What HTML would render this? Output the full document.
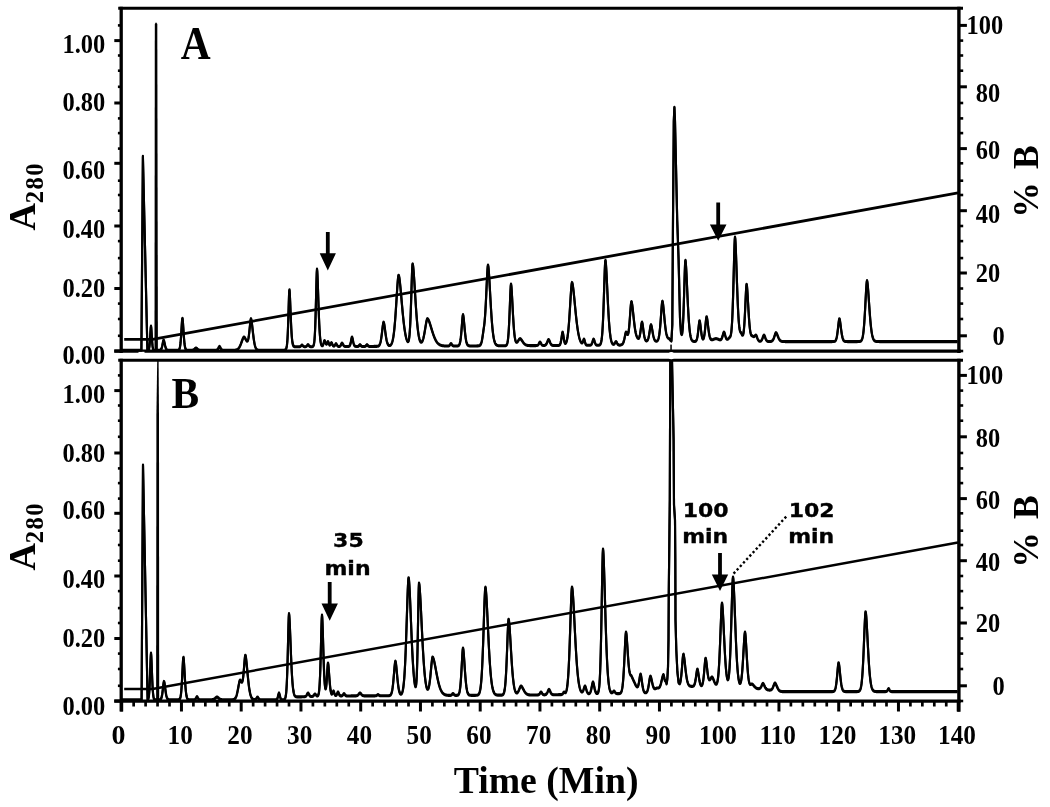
<!DOCTYPE html>
<html lang="en"><head><meta charset="utf-8"><title>Chromatograms A and B</title>
<style>html,body{margin:0;padding:0;background:#fff}svg{display:block}.s{font-family:"Liberation Serif","DejaVu Serif",serif;font-weight:bold;fill:#000}.d{font-family:"DejaVu Sans","Liberation Sans",sans-serif;font-weight:bold;fill:#000;stroke:#000;stroke-width:.35px}</style></head><body>
<svg width="1050" height="807" viewBox="0 0 1050 807">
<rect width="1050" height="807" fill="#fff"/>
<defs><clipPath id="cb"><rect x="118" y="360.3" width="845" height="345"/></clipPath><clipPath id="ca"><rect x="118" y="8" width="845" height="345"/></clipPath></defs>
<line x1="118.2" y1="8.2" x2="963" y2="8.2" stroke="#000" stroke-width="3.1"/>
<line x1="114.3" y1="351.2" x2="960.7" y2="351.2" stroke="#000" stroke-width="3.3"/>
<line x1="121.2" y1="6.7" x2="121.2" y2="352.9" stroke="#000" stroke-width="3.3"/>
<line x1="958.9" y1="6.7" x2="958.9" y2="352.9" stroke="#000" stroke-width="3.4"/>
<line x1="117.9" y1="25.4" x2="121.2" y2="25.4" stroke="#000" stroke-width="2.6"/>
<line x1="958.9" y1="25.4" x2="966.9" y2="25.4" stroke="#000" stroke-width="3"/>
<line x1="114.3" y1="40.6" x2="121.2" y2="40.6" stroke="#000" stroke-width="3"/>
<line x1="958.9" y1="40.6" x2="963.2" y2="40.6" stroke="#000" stroke-width="2.6"/>
<line x1="117.9" y1="55.5" x2="121.2" y2="55.5" stroke="#000" stroke-width="2.6"/>
<line x1="958.9" y1="55.5" x2="963.2" y2="55.5" stroke="#000" stroke-width="2.6"/>
<line x1="117.9" y1="70.7" x2="121.2" y2="70.7" stroke="#000" stroke-width="2.6"/>
<line x1="958.9" y1="70.7" x2="963.2" y2="70.7" stroke="#000" stroke-width="2.6"/>
<line x1="117.9" y1="86.8" x2="121.2" y2="86.8" stroke="#000" stroke-width="2.6"/>
<line x1="958.9" y1="86.8" x2="966.9" y2="86.8" stroke="#000" stroke-width="3"/>
<line x1="114.3" y1="103" x2="121.2" y2="103" stroke="#000" stroke-width="3"/>
<line x1="958.9" y1="103" x2="963.2" y2="103" stroke="#000" stroke-width="2.6"/>
<line x1="117.9" y1="118.4" x2="121.2" y2="118.4" stroke="#000" stroke-width="2.6"/>
<line x1="958.9" y1="118.4" x2="963.2" y2="118.4" stroke="#000" stroke-width="2.6"/>
<line x1="117.9" y1="133.1" x2="121.2" y2="133.1" stroke="#000" stroke-width="2.6"/>
<line x1="958.9" y1="133.1" x2="963.2" y2="133.1" stroke="#000" stroke-width="2.6"/>
<line x1="117.9" y1="148.6" x2="121.2" y2="148.6" stroke="#000" stroke-width="2.6"/>
<line x1="958.9" y1="148.6" x2="966.9" y2="148.6" stroke="#000" stroke-width="3"/>
<line x1="114.3" y1="163.3" x2="121.2" y2="163.3" stroke="#000" stroke-width="3"/>
<line x1="958.9" y1="163.3" x2="963.2" y2="163.3" stroke="#000" stroke-width="2.6"/>
<line x1="117.9" y1="180.7" x2="121.2" y2="180.7" stroke="#000" stroke-width="2.6"/>
<line x1="958.9" y1="180.7" x2="963.2" y2="180.7" stroke="#000" stroke-width="2.6"/>
<line x1="117.9" y1="195" x2="121.2" y2="195" stroke="#000" stroke-width="2.6"/>
<line x1="958.9" y1="195" x2="963.2" y2="195" stroke="#000" stroke-width="2.6"/>
<line x1="117.9" y1="210.7" x2="121.2" y2="210.7" stroke="#000" stroke-width="2.6"/>
<line x1="958.9" y1="210.7" x2="966.9" y2="210.7" stroke="#000" stroke-width="3"/>
<line x1="114.3" y1="226" x2="121.2" y2="226" stroke="#000" stroke-width="3"/>
<line x1="958.9" y1="226" x2="963.2" y2="226" stroke="#000" stroke-width="2.6"/>
<line x1="117.9" y1="241.1" x2="121.2" y2="241.1" stroke="#000" stroke-width="2.6"/>
<line x1="958.9" y1="241.1" x2="963.2" y2="241.1" stroke="#000" stroke-width="2.6"/>
<line x1="117.9" y1="258.1" x2="121.2" y2="258.1" stroke="#000" stroke-width="2.6"/>
<line x1="958.9" y1="258.1" x2="963.2" y2="258.1" stroke="#000" stroke-width="2.6"/>
<line x1="117.9" y1="273" x2="121.2" y2="273" stroke="#000" stroke-width="2.6"/>
<line x1="958.9" y1="273" x2="966.9" y2="273" stroke="#000" stroke-width="3"/>
<line x1="114.3" y1="288.5" x2="121.2" y2="288.5" stroke="#000" stroke-width="3"/>
<line x1="958.9" y1="288.5" x2="963.2" y2="288.5" stroke="#000" stroke-width="2.6"/>
<line x1="117.9" y1="303.6" x2="121.2" y2="303.6" stroke="#000" stroke-width="2.6"/>
<line x1="958.9" y1="303.6" x2="963.2" y2="303.6" stroke="#000" stroke-width="2.6"/>
<line x1="117.9" y1="319" x2="121.2" y2="319" stroke="#000" stroke-width="2.6"/>
<line x1="958.9" y1="319" x2="963.2" y2="319" stroke="#000" stroke-width="2.6"/>
<line x1="117.9" y1="335.8" x2="121.2" y2="335.8" stroke="#000" stroke-width="2.6"/>
<line x1="958.9" y1="335.8" x2="966.9" y2="335.8" stroke="#000" stroke-width="3"/>
<line x1="114.3" y1="351" x2="121.2" y2="351" stroke="#000" stroke-width="3"/>
<line x1="958.9" y1="351" x2="963.2" y2="351" stroke="#000" stroke-width="2.6"/>
<line x1="118.2" y1="360.3" x2="963" y2="360.3" stroke="#000" stroke-width="3.1"/>
<line x1="114.3" y1="701.1" x2="960.7" y2="701.1" stroke="#000" stroke-width="3.3"/>
<line x1="121.2" y1="358.8" x2="121.2" y2="711.4" stroke="#000" stroke-width="3.3"/>
<line x1="958.9" y1="358.8" x2="958.9" y2="711.7" stroke="#000" stroke-width="3.4"/>
<line x1="117.9" y1="375.4" x2="121.2" y2="375.4" stroke="#000" stroke-width="2.6"/>
<line x1="958.9" y1="375.4" x2="966.9" y2="375.4" stroke="#000" stroke-width="3"/>
<line x1="114.3" y1="390.6" x2="121.2" y2="390.6" stroke="#000" stroke-width="3"/>
<line x1="958.9" y1="390.6" x2="963.2" y2="390.6" stroke="#000" stroke-width="2.6"/>
<line x1="117.9" y1="405.5" x2="121.2" y2="405.5" stroke="#000" stroke-width="2.6"/>
<line x1="958.9" y1="405.5" x2="963.2" y2="405.5" stroke="#000" stroke-width="2.6"/>
<line x1="117.9" y1="420.7" x2="121.2" y2="420.7" stroke="#000" stroke-width="2.6"/>
<line x1="958.9" y1="420.7" x2="963.2" y2="420.7" stroke="#000" stroke-width="2.6"/>
<line x1="117.9" y1="436.8" x2="121.2" y2="436.8" stroke="#000" stroke-width="2.6"/>
<line x1="958.9" y1="436.8" x2="966.9" y2="436.8" stroke="#000" stroke-width="3"/>
<line x1="114.3" y1="453" x2="121.2" y2="453" stroke="#000" stroke-width="3"/>
<line x1="958.9" y1="453" x2="963.2" y2="453" stroke="#000" stroke-width="2.6"/>
<line x1="117.9" y1="468.4" x2="121.2" y2="468.4" stroke="#000" stroke-width="2.6"/>
<line x1="958.9" y1="468.4" x2="963.2" y2="468.4" stroke="#000" stroke-width="2.6"/>
<line x1="117.9" y1="483.1" x2="121.2" y2="483.1" stroke="#000" stroke-width="2.6"/>
<line x1="958.9" y1="483.1" x2="963.2" y2="483.1" stroke="#000" stroke-width="2.6"/>
<line x1="117.9" y1="498.6" x2="121.2" y2="498.6" stroke="#000" stroke-width="2.6"/>
<line x1="958.9" y1="498.6" x2="966.9" y2="498.6" stroke="#000" stroke-width="3"/>
<line x1="114.3" y1="513.3" x2="121.2" y2="513.3" stroke="#000" stroke-width="3"/>
<line x1="958.9" y1="513.3" x2="963.2" y2="513.3" stroke="#000" stroke-width="2.6"/>
<line x1="117.9" y1="530.7" x2="121.2" y2="530.7" stroke="#000" stroke-width="2.6"/>
<line x1="958.9" y1="530.7" x2="963.2" y2="530.7" stroke="#000" stroke-width="2.6"/>
<line x1="117.9" y1="545" x2="121.2" y2="545" stroke="#000" stroke-width="2.6"/>
<line x1="958.9" y1="545" x2="963.2" y2="545" stroke="#000" stroke-width="2.6"/>
<line x1="117.9" y1="560.7" x2="121.2" y2="560.7" stroke="#000" stroke-width="2.6"/>
<line x1="958.9" y1="560.7" x2="966.9" y2="560.7" stroke="#000" stroke-width="3"/>
<line x1="114.3" y1="576" x2="121.2" y2="576" stroke="#000" stroke-width="3"/>
<line x1="958.9" y1="576" x2="963.2" y2="576" stroke="#000" stroke-width="2.6"/>
<line x1="117.9" y1="591.1" x2="121.2" y2="591.1" stroke="#000" stroke-width="2.6"/>
<line x1="958.9" y1="591.1" x2="963.2" y2="591.1" stroke="#000" stroke-width="2.6"/>
<line x1="117.9" y1="608.1" x2="121.2" y2="608.1" stroke="#000" stroke-width="2.6"/>
<line x1="958.9" y1="608.1" x2="963.2" y2="608.1" stroke="#000" stroke-width="2.6"/>
<line x1="117.9" y1="623" x2="121.2" y2="623" stroke="#000" stroke-width="2.6"/>
<line x1="958.9" y1="623" x2="966.9" y2="623" stroke="#000" stroke-width="3"/>
<line x1="114.3" y1="638.5" x2="121.2" y2="638.5" stroke="#000" stroke-width="3"/>
<line x1="958.9" y1="638.5" x2="963.2" y2="638.5" stroke="#000" stroke-width="2.6"/>
<line x1="117.9" y1="653.6" x2="121.2" y2="653.6" stroke="#000" stroke-width="2.6"/>
<line x1="958.9" y1="653.6" x2="963.2" y2="653.6" stroke="#000" stroke-width="2.6"/>
<line x1="117.9" y1="669" x2="121.2" y2="669" stroke="#000" stroke-width="2.6"/>
<line x1="958.9" y1="669" x2="963.2" y2="669" stroke="#000" stroke-width="2.6"/>
<line x1="117.9" y1="685.8" x2="121.2" y2="685.8" stroke="#000" stroke-width="2.6"/>
<line x1="958.9" y1="685.8" x2="966.9" y2="685.8" stroke="#000" stroke-width="3"/>
<line x1="114.3" y1="701" x2="121.2" y2="701" stroke="#000" stroke-width="3"/>
<line x1="958.9" y1="701" x2="963.2" y2="701" stroke="#000" stroke-width="2.6"/>
<rect x="138.5" y="351.8" width="6" height="1.4" fill="#fff"/>
<rect x="670.3" y="344.6" width="1.5" height="6" fill="#000"/>
<ellipse cx="671.3" cy="355.6" rx="3.2" ry="3.6" fill="#fff"/>
<line x1="121.7" y1="701" x2="121.7" y2="711.5" stroke="#000" stroke-width="3"/>
<line x1="133.65" y1="701" x2="133.65" y2="706.5" stroke="#000" stroke-width="2.7"/>
<line x1="145.6" y1="701" x2="145.6" y2="706.5" stroke="#000" stroke-width="2.7"/>
<line x1="157.55" y1="701" x2="157.55" y2="706.5" stroke="#000" stroke-width="2.7"/>
<line x1="169.5" y1="701" x2="169.5" y2="706.5" stroke="#000" stroke-width="2.7"/>
<line x1="181.45" y1="701" x2="181.45" y2="711.5" stroke="#000" stroke-width="3"/>
<line x1="193.4" y1="701" x2="193.4" y2="706.5" stroke="#000" stroke-width="2.7"/>
<line x1="205.35" y1="701" x2="205.35" y2="706.5" stroke="#000" stroke-width="2.7"/>
<line x1="217.3" y1="701" x2="217.3" y2="706.5" stroke="#000" stroke-width="2.7"/>
<line x1="229.25" y1="701" x2="229.25" y2="706.5" stroke="#000" stroke-width="2.7"/>
<line x1="241.2" y1="701" x2="241.2" y2="711.5" stroke="#000" stroke-width="3"/>
<line x1="253.15" y1="701" x2="253.15" y2="706.5" stroke="#000" stroke-width="2.7"/>
<line x1="265.1" y1="701" x2="265.1" y2="706.5" stroke="#000" stroke-width="2.7"/>
<line x1="277.05" y1="701" x2="277.05" y2="706.5" stroke="#000" stroke-width="2.7"/>
<line x1="289" y1="701" x2="289" y2="706.5" stroke="#000" stroke-width="2.7"/>
<line x1="300.95" y1="701" x2="300.95" y2="711.5" stroke="#000" stroke-width="3"/>
<line x1="312.9" y1="701" x2="312.9" y2="706.5" stroke="#000" stroke-width="2.7"/>
<line x1="324.85" y1="701" x2="324.85" y2="706.5" stroke="#000" stroke-width="2.7"/>
<line x1="336.8" y1="701" x2="336.8" y2="706.5" stroke="#000" stroke-width="2.7"/>
<line x1="348.75" y1="701" x2="348.75" y2="706.5" stroke="#000" stroke-width="2.7"/>
<line x1="360.7" y1="701" x2="360.7" y2="711.5" stroke="#000" stroke-width="3"/>
<line x1="372.65" y1="701" x2="372.65" y2="706.5" stroke="#000" stroke-width="2.7"/>
<line x1="384.6" y1="701" x2="384.6" y2="706.5" stroke="#000" stroke-width="2.7"/>
<line x1="396.55" y1="701" x2="396.55" y2="706.5" stroke="#000" stroke-width="2.7"/>
<line x1="408.5" y1="701" x2="408.5" y2="706.5" stroke="#000" stroke-width="2.7"/>
<line x1="420.45" y1="701" x2="420.45" y2="711.5" stroke="#000" stroke-width="3"/>
<line x1="432.4" y1="701" x2="432.4" y2="706.5" stroke="#000" stroke-width="2.7"/>
<line x1="444.35" y1="701" x2="444.35" y2="706.5" stroke="#000" stroke-width="2.7"/>
<line x1="456.3" y1="701" x2="456.3" y2="706.5" stroke="#000" stroke-width="2.7"/>
<line x1="468.25" y1="701" x2="468.25" y2="706.5" stroke="#000" stroke-width="2.7"/>
<line x1="480.2" y1="701" x2="480.2" y2="711.5" stroke="#000" stroke-width="3"/>
<line x1="492.15" y1="701" x2="492.15" y2="706.5" stroke="#000" stroke-width="2.7"/>
<line x1="504.1" y1="701" x2="504.1" y2="706.5" stroke="#000" stroke-width="2.7"/>
<line x1="516.05" y1="701" x2="516.05" y2="706.5" stroke="#000" stroke-width="2.7"/>
<line x1="528" y1="701" x2="528" y2="706.5" stroke="#000" stroke-width="2.7"/>
<line x1="539.95" y1="701" x2="539.95" y2="711.5" stroke="#000" stroke-width="3"/>
<line x1="551.9" y1="701" x2="551.9" y2="706.5" stroke="#000" stroke-width="2.7"/>
<line x1="563.85" y1="701" x2="563.85" y2="706.5" stroke="#000" stroke-width="2.7"/>
<line x1="575.8" y1="701" x2="575.8" y2="706.5" stroke="#000" stroke-width="2.7"/>
<line x1="587.75" y1="701" x2="587.75" y2="706.5" stroke="#000" stroke-width="2.7"/>
<line x1="599.7" y1="701" x2="599.7" y2="711.5" stroke="#000" stroke-width="3"/>
<line x1="611.65" y1="701" x2="611.65" y2="706.5" stroke="#000" stroke-width="2.7"/>
<line x1="623.6" y1="701" x2="623.6" y2="706.5" stroke="#000" stroke-width="2.7"/>
<line x1="635.55" y1="701" x2="635.55" y2="706.5" stroke="#000" stroke-width="2.7"/>
<line x1="647.5" y1="701" x2="647.5" y2="706.5" stroke="#000" stroke-width="2.7"/>
<line x1="659.45" y1="701" x2="659.45" y2="711.5" stroke="#000" stroke-width="3"/>
<line x1="671.4" y1="701" x2="671.4" y2="706.5" stroke="#000" stroke-width="2.7"/>
<line x1="683.35" y1="701" x2="683.35" y2="706.5" stroke="#000" stroke-width="2.7"/>
<line x1="695.3" y1="701" x2="695.3" y2="706.5" stroke="#000" stroke-width="2.7"/>
<line x1="707.25" y1="701" x2="707.25" y2="706.5" stroke="#000" stroke-width="2.7"/>
<line x1="719.2" y1="701" x2="719.2" y2="711.5" stroke="#000" stroke-width="3"/>
<line x1="731.15" y1="701" x2="731.15" y2="706.5" stroke="#000" stroke-width="2.7"/>
<line x1="743.1" y1="701" x2="743.1" y2="706.5" stroke="#000" stroke-width="2.7"/>
<line x1="755.05" y1="701" x2="755.05" y2="706.5" stroke="#000" stroke-width="2.7"/>
<line x1="767" y1="701" x2="767" y2="706.5" stroke="#000" stroke-width="2.7"/>
<line x1="778.95" y1="701" x2="778.95" y2="711.5" stroke="#000" stroke-width="3"/>
<line x1="790.9" y1="701" x2="790.9" y2="706.5" stroke="#000" stroke-width="2.7"/>
<line x1="802.85" y1="701" x2="802.85" y2="706.5" stroke="#000" stroke-width="2.7"/>
<line x1="814.8" y1="701" x2="814.8" y2="706.5" stroke="#000" stroke-width="2.7"/>
<line x1="826.75" y1="701" x2="826.75" y2="706.5" stroke="#000" stroke-width="2.7"/>
<line x1="838.7" y1="701" x2="838.7" y2="711.5" stroke="#000" stroke-width="3"/>
<line x1="850.65" y1="701" x2="850.65" y2="706.5" stroke="#000" stroke-width="2.7"/>
<line x1="862.6" y1="701" x2="862.6" y2="706.5" stroke="#000" stroke-width="2.7"/>
<line x1="874.55" y1="701" x2="874.55" y2="706.5" stroke="#000" stroke-width="2.7"/>
<line x1="886.5" y1="701" x2="886.5" y2="706.5" stroke="#000" stroke-width="2.7"/>
<line x1="898.45" y1="701" x2="898.45" y2="711.5" stroke="#000" stroke-width="3"/>
<line x1="910.4" y1="701" x2="910.4" y2="706.5" stroke="#000" stroke-width="2.7"/>
<line x1="922.35" y1="701" x2="922.35" y2="706.5" stroke="#000" stroke-width="2.7"/>
<line x1="934.3" y1="701" x2="934.3" y2="706.5" stroke="#000" stroke-width="2.7"/>
<line x1="946.25" y1="701" x2="946.25" y2="706.5" stroke="#000" stroke-width="2.7"/>
<line x1="958.2" y1="701" x2="958.2" y2="711.5" stroke="#000" stroke-width="3"/>
<polyline fill="none" stroke="#000" stroke-width="2.8" stroke-linejoin="round" points="124.2,339.4 152.5,339.4 958,192.9"/>
<polyline fill="none" stroke="#000" stroke-width="2.5" stroke-linejoin="round" points="124.2,689 152.5,689 958,542.5"/>
<g clip-path="url(#ca)" fill="none" stroke="#000" stroke-width="2.15" stroke-linejoin="round"><path id="ta" transform="translate(0 -0.45)" d="M121.5 350.3 L141.4 350.3 L141.5 337.36 L141.75 305.01 L142 272.66 L142.25 240.31 L142.5 207.96 L142.75 175.61 L142.9 156.2 L143 160.51 L143.25 171.3 L143.5 182.08 L143.75 192.86 L144 203.65 L144.25 214.43 L144.5 225.21 L144.75 236 L145 246.78 L145.25 257.56 L145.5 268.35 L145.75 279.13 L146 289.91 L146.25 300.7 L146.5 311.48 L146.75 322.26 L147 333.04 L147.25 343.82 L147.4 350.28 L147.5 350.28 L147.75 350.25 L148 350.19 L148.25 350.06 L148.5 349.83 L148.75 349.4 L149 348.66 L149.25 347.46 L149.5 345.64 L149.75 343.07 L150 339.69 L150.25 335.68 L150.5 331.47 L150.75 327.84 L151 326 L151.25 327.84 L151.5 331.47 L151.75 335.68 L152 339.69 L152.25 343.07 L152.5 345.64 L152.75 347.46 L153 348.66 L153.25 349.4 L153.5 349.83 L153.75 350.06 L154 350.19 L154.25 350.25 L154.5 350.28 L154.75 350.29 L155 350.3 L155.25 350.3 L158.25 350.3 L158.5 350.3 L158.75 350.29 L159 350.29 L159.25 350.28 L159.5 350.26 L159.75 350.23 L160 350.18 L160.25 350.11 L160.5 349.98 L160.75 349.8 L161 349.52 L161.25 349.13 L161.5 348.59 L161.75 347.88 L162 346.97 L162.25 345.88 L162.5 344.64 L162.75 343.3 L163 341.98 L163.25 340.84 L163.5 340.1 L163.75 340.16 L164 340.81 L164.25 341.77 L164.5 342.87 L164.75 344.03 L165 345.15 L165.25 346.18 L165.5 347.09 L165.75 347.85 L166 348.48 L166.25 348.98 L166.5 349.36 L166.75 349.64 L167 349.85 L167.25 350 L167.5 350.1 L167.75 350.17 L168 350.22 L168.25 350.25 L168.5 350.27 L168.75 350.28 L169 350.29 L169.25 350.29 L169.5 350.3 L169.75 350.3 L176.5 350.3 L176.75 350.3 L177 350.3 L177.25 350.29 L177.5 350.28 L177.75 350.27 L178 350.24 L178.25 350.19 L178.5 350.11 L178.75 349.97 L179 349.75 L179.25 349.4 L179.5 348.85 L179.75 348.05 L180 346.9 L180.25 345.31 L180.5 343.19 L180.75 340.48 L181 337.18 L181.25 333.35 L181.5 329.18 L181.75 325 L182 321.28 L182.25 318.65 L182.5 318.28 L182.75 320.32 L183 323.49 L183.25 327.23 L183.5 331.13 L183.75 334.87 L184 338.26 L184.25 341.16 L184.5 343.56 L184.75 345.45 L185 346.9 L185.25 347.98 L185.5 348.75 L185.75 349.29 L186 349.66 L186.25 349.9 L186.5 350.06 L186.75 350.15 L187 350.22 L187.25 350.25 L187.5 350.27 L187.75 350.29 L188 350.29 L188.25 350.3 L188.5 350.3 L189.75 350.3 L190 350.3 L190.25 350.29 L190.5 350.29 L190.75 350.29 L191 350.28 L191.25 350.27 L191.5 350.26 L191.75 350.24 L192 350.21 L192.25 350.18 L192.5 350.13 L192.75 350.07 L193 349.99 L193.25 349.9 L193.5 349.78 L193.75 349.63 L194 349.46 L194.25 349.27 L194.5 349.06 L194.75 348.84 L195 348.62 L195.25 348.4 L195.5 348.21 L195.75 348.07 L196 348 L196.25 348.07 L196.5 348.21 L196.75 348.4 L197 348.62 L197.25 348.84 L197.5 349.06 L197.75 349.27 L198 349.46 L198.25 349.63 L198.5 349.78 L198.75 349.9 L199 349.99 L199.25 350.07 L199.5 350.13 L199.75 350.18 L200 350.21 L200.25 350.24 L200.5 350.26 L200.75 350.27 L201 350.28 L201.25 350.29 L201.5 350.29 L201.75 350.29 L202 350.3 L202.25 350.3 L214.5 350.3 L214.75 350.3 L215 350.29 L215.25 350.29 L215.5 350.28 L215.75 350.27 L216 350.25 L216.25 350.21 L216.5 350.15 L216.75 350.07 L217 349.95 L217.25 349.78 L217.5 349.55 L217.75 349.25 L218 348.88 L218.25 348.44 L218.5 347.95 L218.75 347.44 L219 346.96 L219.25 346.58 L219.5 346.4 L219.75 346.58 L220 346.96 L220.25 347.44 L220.5 347.95 L220.75 348.44 L221 348.88 L221.25 349.25 L221.5 349.55 L221.75 349.78 L222 349.95 L222.25 350.07 L222.5 350.15 L222.75 350.21 L223 350.25 L223.25 350.27 L223.5 350.28 L223.75 350.29 L224 350.29 L224.25 350.3 L224.5 350.3 L231.25 350.3 L231.5 350.29 L231.75 350.29 L232 350.29 L232.25 350.29 L232.5 350.29 L232.75 350.28 L233 350.28 L233.25 350.27 L233.5 350.26 L233.75 350.25 L234 350.24 L234.25 350.22 L234.5 350.2 L234.75 350.18 L235 350.15 L235.25 350.12 L235.5 350.07 L235.75 350.02 L236 349.96 L236.25 349.89 L236.5 349.81 L236.75 349.71 L237 349.59 L237.25 349.45 L237.5 349.29 L237.75 349.11 L238 348.9 L238.25 348.66 L238.5 348.4 L238.75 348.09 L239 347.75 L239.25 347.38 L239.5 346.96 L239.75 346.51 L240 346.01 L240.25 345.48 L240.5 344.9 L240.75 344.3 L241 343.66 L241.25 342.99 L241.5 342.31 L241.75 341.61 L242 340.92 L242.25 340.23 L242.5 339.57 L242.75 338.94 L243 338.36 L243.25 337.86 L243.5 337.44 L243.75 337.14 L244 337 L244.25 337.1 L244.5 337.33 L244.75 337.65 L245 338.03 L245.25 338.47 L245.5 338.93 L245.75 339.41 L246 339.87 L246.25 340.31 L246.5 340.68 L246.75 340.97 L247 341.15 L247.25 341.18 L247.5 341.03 L247.75 340.66 L248 340.04 L248.25 339.14 L248.5 337.94 L248.75 336.42 L249 334.59 L249.25 332.48 L249.5 330.15 L249.75 327.67 L250 325.16 L250.25 322.78 L250.5 320.72 L250.75 319.21 L251 318.6 L251.25 319.29 L251.5 320.57 L251.75 322.26 L252 324.22 L252.25 326.36 L252.5 328.59 L252.75 330.84 L253 333.06 L253.25 335.18 L253.5 337.18 L253.75 339.03 L254 340.72 L254.25 342.23 L254.5 343.56 L254.75 344.73 L255 345.73 L255.25 346.59 L255.5 347.31 L255.75 347.91 L256 348.41 L256.25 348.82 L256.5 349.14 L256.75 349.41 L257 349.61 L257.25 349.78 L257.5 349.91 L257.75 350 L258 350.08 L258.25 350.14 L258.5 350.18 L258.75 350.21 L259 350.24 L259.25 350.25 L259.5 350.27 L259.75 350.28 L260 350.28 L260.25 350.29 L260.5 350.29 L260.75 350.29 L261 350.3 L261.25 350.3 L283.75 350.3 L284 350.3 L284.25 350.19 L284.5 350.07 L284.75 349.95 L285 349.82 L285.25 349.68 L285.5 349.49 L285.75 349.25 L286 348.9 L286.25 348.39 L286.5 347.61 L286.75 346.43 L287 344.69 L287.25 342.17 L287.5 338.65 L287.75 333.95 L288 327.95 L288.25 320.72 L288.5 312.57 L288.75 304.13 L289 296.41 L289.25 290.82 L289.5 289.81 L289.75 292.97 L290 298 L290.25 304.06 L290.5 310.5 L290.75 316.84 L291 322.71 L291.25 327.9 L291.5 332.31 L291.75 335.91 L292 338.76 L292.25 341.05 L292.5 342.77 L292.75 344.04 L293 344.94 L293.25 345.57 L293.5 346 L293.75 346.29 L294 346.48 L294.25 346.6 L294.5 346.67 L294.75 346.72 L295 346.75 L295.25 346.76 L295.5 346.77 L295.75 346.78 L296 346.78 L297 346.78 L297.25 346.77 L297.5 346.77 L297.75 346.77 L298 346.77 L298.25 346.77 L298.5 346.76 L298.75 346.76 L299 346.75 L299.25 346.73 L299.5 346.7 L299.75 346.65 L300 346.58 L300.25 346.47 L300.5 346.32 L300.75 346.12 L301 345.88 L301.25 345.61 L301.5 345.34 L301.75 345.11 L302 345 L302.25 345.11 L302.5 345.33 L302.75 345.6 L303 345.87 L303.25 346.11 L303.5 346.3 L303.75 346.45 L304 346.56 L304.25 346.63 L304.5 346.67 L304.75 346.69 L305 346.69 L305.25 346.68 L305.5 346.65 L305.75 346.6 L306 346.51 L306.25 346.38 L306.5 346.2 L306.75 345.96 L307 345.67 L307.25 345.34 L307.5 345.01 L307.75 344.74 L308 344.6 L308.25 344.73 L308.5 345.01 L308.75 345.33 L309 345.66 L309.25 345.95 L309.5 346.18 L309.75 346.36 L310 346.49 L310.25 346.58 L310.5 346.63 L310.75 346.66 L311 346.68 L311.25 346.69 L311.5 346.69 L311.75 346.69 L312 346.67 L312.25 346.64 L312.5 346.59 L312.75 346.5 L313 346.34 L313.25 346.06 L313.5 345.62 L313.75 344.91 L314 343.8 L314.25 342.15 L314.5 339.74 L314.75 336.37 L315 331.8 L315.25 325.86 L315.5 318.48 L315.75 309.73 L316 299.96 L316.25 289.81 L316.5 280.25 L316.75 272.65 L317 269 L317.25 271.26 L317.5 276.1 L317.75 282.51 L318 289.8 L318.25 297.42 L318.5 304.93 L318.75 312.02 L319 318.46 L319.25 324.13 L319.5 328.99 L319.75 333.04 L320 336.34 L320.25 338.97 L320.5 341.02 L320.75 342.58 L321 343.75 L321.25 344.6 L321.5 345.19 L321.75 345.58 L322 345.79 L322.25 345.84 L322.5 345.74 L322.75 345.46 L323 345 L323.25 344.36 L323.5 343.54 L323.75 342.62 L324 341.68 L324.25 340.89 L324.5 340.5 L324.75 340.77 L325 341.35 L325.25 342.05 L325.5 342.77 L325.75 343.4 L326 343.88 L326.25 344.16 L326.5 344.2 L326.75 343.99 L327 343.57 L327.25 342.98 L327.5 342.33 L327.75 341.77 L328 341.5 L328.25 341.84 L328.5 342.49 L328.75 343.24 L329 343.95 L329.25 344.53 L329.5 344.93 L329.75 345.12 L330 345.08 L330.25 344.84 L330.5 344.43 L330.75 343.9 L331 343.33 L331.25 342.84 L331.5 342.6 L331.75 342.86 L332 343.37 L332.25 343.99 L332.5 344.6 L332.75 345.13 L333 345.56 L333.25 345.87 L333.5 346.07 L333.75 346.15 L334 346.13 L334.25 346.02 L334.5 345.8 L334.75 345.49 L335 345.09 L335.25 344.63 L335.5 344.17 L335.75 343.79 L336 343.6 L336.25 343.79 L336.5 344.17 L336.75 344.63 L337 345.09 L337.25 345.5 L337.5 345.83 L337.75 346.08 L338 346.26 L338.25 346.38 L338.5 346.45 L338.75 346.49 L339 346.5 L339.25 346.48 L339.5 346.43 L339.75 346.34 L340 346.19 L340.25 345.97 L340.5 345.67 L340.75 345.27 L341 344.78 L341.25 344.24 L341.5 343.69 L341.75 343.23 L342 343 L342.25 343.17 L342.5 343.51 L342.75 343.95 L343 344.41 L343.25 344.86 L343.5 345.26 L343.75 345.6 L344 345.87 L344.25 346.07 L344.5 346.23 L344.75 346.34 L345 346.41 L345.25 346.46 L345.5 346.49 L345.75 346.51 L346 346.52 L346.25 346.53 L346.5 346.53 L347 346.53 L347.25 346.53 L347.5 346.53 L347.75 346.52 L348 346.51 L348.25 346.49 L348.5 346.46 L348.75 346.41 L349 346.31 L349.25 346.17 L349.5 345.94 L349.75 345.6 L350 345.12 L350.25 344.45 L350.5 343.58 L350.75 342.5 L351 341.24 L351.25 339.89 L351.5 338.58 L351.75 337.52 L352 337 L352.25 337.45 L352.5 338.38 L352.75 339.54 L353 340.79 L353.25 341.98 L353.5 343.05 L353.75 343.95 L354 344.68 L354.25 345.23 L354.5 345.65 L354.75 345.94 L355 346.14 L355.25 346.27 L355.5 346.36 L355.75 346.41 L356 346.45 L356.25 346.46 L356.5 346.47 L356.75 346.48 L357 346.48 L357.25 346.48 L357.5 346.47 L357.75 346.45 L358 346.41 L358.25 346.34 L358.5 346.23 L358.75 346.05 L359 345.8 L359.25 345.47 L359.5 345.1 L359.75 344.77 L360 344.6 L360.25 344.77 L360.5 345.1 L360.75 345.46 L361 345.79 L361.25 346.04 L361.5 346.22 L361.75 346.33 L362 346.39 L362.25 346.43 L362.5 346.44 L362.75 346.45 L363 346.45 L363.5 346.45 L363.75 346.45 L364 346.45 L364.25 346.44 L364.5 346.43 L364.75 346.42 L365 346.38 L365.25 346.31 L365.5 346.2 L365.75 346.03 L366 345.77 L366.25 345.45 L366.5 345.09 L366.75 344.77 L367 344.6 L367.25 344.77 L367.5 345.09 L367.75 345.45 L368 345.77 L368.25 346.01 L368.5 346.19 L368.75 346.3 L369 346.36 L369.25 346.39 L369.5 346.41 L369.75 346.42 L370 346.42 L370.75 346.42 L371 346.42 L371.25 346.42 L371.5 346.42 L371.75 346.41 L372 346.41 L372.25 346.41 L372.5 346.41 L372.75 346.41 L373 346.41 L373.25 346.41 L373.5 346.41 L373.75 346.4 L374 346.4 L374.25 346.4 L374.5 346.4 L374.75 346.4 L375 346.4 L375.25 346.4 L375.5 346.39 L375.75 346.39 L376 346.39 L376.25 346.38 L376.5 346.37 L376.75 346.36 L377 346.34 L377.25 346.32 L377.5 346.29 L377.75 346.24 L378 346.18 L378.25 346.09 L378.5 345.97 L378.75 345.8 L379 345.58 L379.25 345.29 L379.5 344.91 L379.75 344.42 L380 343.81 L380.25 343.05 L380.5 342.12 L380.75 341.01 L381 339.7 L381.25 338.18 L381.5 336.47 L381.75 334.58 L382 332.55 L382.25 330.44 L382.5 328.32 L382.75 326.29 L383 324.48 L383.25 323.02 L383.5 322.12 L383.75 322.2 L384 323.07 L384.25 324.37 L384.5 325.97 L384.75 327.77 L385 329.66 L385.25 331.57 L385.5 333.44 L385.75 335.22 L386 336.87 L386.25 338.37 L386.5 339.71 L386.75 340.89 L387 341.9 L387.25 342.75 L387.5 343.47 L387.75 344.05 L388 344.52 L388.25 344.89 L388.5 345.17 L388.75 345.37 L389 345.5 L389.25 345.58 L389.5 345.6 L389.75 345.57 L390 345.49 L390.25 345.37 L390.5 345.19 L390.75 344.96 L391 344.66 L391.25 344.3 L391.5 343.85 L391.75 343.32 L392 342.68 L392.25 341.92 L392.5 341.04 L392.75 340.01 L393 338.81 L393.25 337.44 L393.5 335.87 L393.75 334.09 L394 332.08 L394.25 329.85 L394.5 327.37 L394.75 324.64 L395 321.67 L395.25 318.46 L395.5 315.03 L395.75 311.4 L396 307.61 L396.25 303.69 L396.5 299.69 L396.75 295.69 L397 291.75 L397.25 287.96 L397.5 284.42 L397.75 281.23 L398 278.52 L398.25 276.43 L398.5 275.17 L398.75 275.19 L399 276.02 L399.25 277.31 L399.5 278.97 L399.75 280.93 L400 283.15 L400.25 285.57 L400.5 288.15 L400.75 290.86 L401 293.66 L401.25 296.51 L401.5 299.38 L401.75 302.25 L402 305.1 L402.25 307.89 L402.5 310.62 L402.75 313.27 L403 315.82 L403.25 318.27 L403.5 320.6 L403.75 322.81 L404 324.9 L404.25 326.86 L404.5 328.69 L404.75 330.4 L405 331.98 L405.25 333.44 L405.5 334.78 L405.75 336.01 L406 337.12 L406.25 338.12 L406.5 339.01 L406.75 339.79 L407 340.46 L407.25 341.01 L407.5 341.41 L407.75 341.67 L408 341.73 L408.25 341.58 L408.5 341.14 L408.75 340.36 L409 339.16 L409.25 337.45 L409.5 335.13 L409.75 332.12 L410 328.31 L410.25 323.64 L410.5 318.09 L410.75 311.67 L411 304.49 L411.25 296.74 L411.5 288.72 L411.75 280.83 L412 273.63 L412.25 267.76 L412.5 264.1 L412.75 263.93 L413 265.29 L413.25 267.38 L413.5 270.03 L413.75 273.14 L414 276.59 L414.25 280.31 L414.5 284.21 L414.75 288.22 L415 292.27 L415.25 296.32 L415.5 300.3 L415.75 304.19 L416 307.94 L416.25 311.52 L416.5 314.92 L416.75 318.11 L417 321.09 L417.25 323.85 L417.5 326.39 L417.75 328.71 L418 330.81 L418.25 332.7 L418.5 334.39 L418.75 335.89 L419 337.2 L419.25 338.34 L419.5 339.32 L419.75 340.14 L420 340.82 L420.25 341.37 L420.5 341.78 L420.75 342.07 L421 342.24 L421.25 342.29 L421.5 342.23 L421.75 342.05 L422 341.77 L422.25 341.37 L422.5 340.86 L422.75 340.24 L423 339.51 L423.25 338.66 L423.5 337.7 L423.75 336.63 L424 335.46 L424.25 334.19 L424.5 332.84 L424.75 331.41 L425 329.92 L425.25 328.4 L425.5 326.86 L425.75 325.34 L426 323.87 L426.25 322.49 L426.5 321.23 L426.75 320.15 L427 319.29 L427.25 318.73 L427.5 318.62 L427.75 318.79 L428 319.08 L428.25 319.46 L428.5 319.93 L428.75 320.46 L429 321.06 L429.25 321.7 L429.5 322.39 L429.75 323.12 L430 323.88 L430.25 324.67 L430.5 325.48 L430.75 326.3 L431 327.12 L431.25 327.96 L431.5 328.79 L431.75 329.62 L432 330.44 L432.25 331.24 L432.5 332.04 L432.75 332.81 L433 333.57 L433.25 334.31 L433.5 335.02 L433.75 335.71 L434 336.38 L434.25 337.01 L434.5 337.62 L434.75 338.21 L435 338.76 L435.25 339.29 L435.5 339.79 L435.75 340.26 L436 340.71 L436.25 341.13 L436.5 341.52 L436.75 341.89 L437 342.24 L437.25 342.56 L437.5 342.86 L437.75 343.14 L438 343.4 L438.25 343.64 L438.5 343.87 L438.75 344.07 L439 344.26 L439.25 344.43 L439.5 344.59 L439.75 344.74 L440 344.87 L440.25 344.99 L440.5 345.1 L440.75 345.2 L441 345.29 L441.25 345.37 L441.5 345.45 L441.75 345.51 L442 345.57 L442.25 345.63 L442.5 345.68 L442.75 345.72 L443 345.76 L443.25 345.79 L443.5 345.82 L443.75 345.85 L444 345.88 L444.25 345.9 L444.5 345.92 L444.75 345.93 L445 345.95 L445.25 345.96 L445.5 345.97 L445.75 345.98 L446 345.99 L446.25 346 L446.5 346 L446.75 346.01 L447 346.01 L447.25 346.01 L447.5 346.01 L447.75 346.01 L448 346 L448.25 345.97 L448.5 345.93 L448.75 345.87 L449 345.76 L449.25 345.61 L449.5 345.39 L449.75 345.11 L450 344.77 L450.25 344.38 L450.5 343.99 L450.75 343.66 L451 343.5 L451.25 343.66 L451.5 343.98 L451.75 344.37 L452 344.76 L452.25 345.11 L452.5 345.39 L452.75 345.6 L453 345.75 L453.25 345.86 L453.5 345.92 L453.75 345.96 L454 345.99 L454.25 346 L454.5 346.01 L454.75 346.01 L455.25 346.01 L455.5 346.01 L455.75 346.01 L456 346 L456.25 346 L456.5 346 L456.75 345.99 L457 345.98 L457.25 345.97 L457.5 345.94 L457.75 345.91 L458 345.85 L458.25 345.77 L458.5 345.64 L458.75 345.46 L459 345.19 L459.25 344.82 L459.5 344.31 L459.75 343.61 L460 342.69 L460.25 341.49 L460.5 339.97 L460.75 338.1 L461 335.85 L461.25 333.24 L461.5 330.29 L461.75 327.11 L462 323.82 L462.25 320.63 L462.5 317.79 L462.75 315.62 L463 314.6 L463.25 315.35 L463.5 316.97 L463.75 319.14 L464 321.66 L464.25 324.36 L464.5 327.1 L464.75 329.76 L465 332.27 L465.25 334.57 L465.5 336.62 L465.75 338.41 L466 339.94 L466.25 341.23 L466.5 342.29 L466.75 343.15 L467 343.83 L467.25 344.37 L467.5 344.78 L467.75 345.1 L468 345.34 L468.25 345.51 L468.5 345.64 L468.75 345.73 L469 345.8 L469.25 345.84 L469.5 345.87 L469.75 345.9 L470 345.91 L470.25 345.92 L470.5 345.92 L470.75 345.93 L471 345.93 L472.25 345.93 L472.5 345.93 L472.75 345.93 L473 345.92 L473.25 345.92 L473.5 345.92 L473.75 345.92 L474 345.92 L474.25 345.92 L474.5 345.92 L474.75 345.92 L475 345.91 L475.25 345.91 L475.5 345.91 L475.75 345.91 L476 345.91 L476.25 345.91 L476.5 345.91 L476.75 345.9 L477 345.9 L477.25 345.9 L477.5 345.89 L477.75 345.89 L478 345.88 L478.25 345.86 L478.5 345.84 L478.75 345.81 L479 345.76 L479.25 345.7 L479.5 345.61 L479.75 345.48 L480 345.3 L480.25 345.05 L480.5 344.73 L480.75 344.31 L481 343.77 L481.25 343.09 L481.5 342.25 L481.75 341.24 L482 340.06 L482.25 338.69 L482.5 337.16 L482.75 335.48 L483 333.69 L483.25 331.83 L483.5 330 L483.75 328.38 L484 326.7 L484.25 324.82 L484.5 322.6 L484.75 319.97 L485 316.86 L485.25 313.25 L485.5 309.12 L485.75 304.52 L486 299.52 L486.25 294.21 L486.5 288.75 L486.75 283.29 L487 278.06 L487.25 273.3 L487.5 269.27 L487.75 266.33 L488 265 L488.25 265.95 L488.5 267.99 L488.75 270.81 L489 274.23 L489.25 278.11 L489.5 282.3 L489.75 286.71 L490 291.23 L490.25 295.76 L490.5 300.24 L490.75 304.6 L491 308.79 L491.25 312.77 L491.5 316.51 L491.75 319.98 L492 323.18 L492.25 326.09 L492.5 328.74 L492.75 331.11 L493 333.22 L493.25 335.09 L493.5 336.73 L493.75 338.16 L494 339.4 L494.25 340.47 L494.5 341.38 L494.75 342.16 L495 342.81 L495.25 343.36 L495.5 343.82 L495.75 344.2 L496 344.51 L496.25 344.77 L496.5 344.98 L496.75 345.15 L497 345.29 L497.25 345.4 L497.5 345.49 L497.75 345.56 L498 345.61 L498.25 345.65 L498.5 345.69 L498.75 345.71 L499 345.73 L499.25 345.75 L499.5 345.76 L499.75 345.77 L500 345.77 L500.25 345.78 L500.5 345.78 L500.75 345.78 L501 345.78 L502.5 345.78 L502.75 345.78 L503 345.78 L503.25 345.78 L503.5 345.77 L503.75 345.77 L504 345.77 L504.25 345.76 L504.5 345.76 L504.75 345.75 L505 345.73 L505.25 345.7 L505.5 345.65 L505.75 345.58 L506 345.48 L506.25 345.31 L506.5 345.07 L506.75 344.71 L507 344.19 L507.25 343.46 L507.5 342.45 L507.75 341.08 L508 339.26 L508.25 336.9 L508.5 333.92 L508.75 330.24 L509 325.82 L509.25 320.67 L509.5 314.88 L509.75 308.62 L510 302.15 L510.25 295.87 L510.5 290.28 L510.75 286.01 L511 284 L511.25 285.23 L511.5 287.91 L511.75 291.54 L512 295.82 L512.25 300.48 L512.5 305.3 L512.75 310.1 L513 314.74 L513.25 319.1 L513.5 323.1 L513.75 326.71 L514 329.88 L514.25 332.63 L514.5 334.96 L514.75 336.9 L515 338.48 L515.25 339.74 L515.5 340.7 L515.75 341.41 L516 341.9 L516.25 342.21 L516.5 342.35 L516.75 342.36 L517 342.26 L517.25 342.07 L517.5 341.8 L517.75 341.48 L518 341.11 L518.25 340.72 L518.5 340.32 L518.75 339.92 L519 339.53 L519.25 339.19 L519.5 338.9 L519.75 338.69 L520 338.6 L520.25 338.67 L520.5 338.83 L520.75 339.05 L521 339.32 L521.25 339.63 L521.5 339.96 L521.75 340.32 L522 340.68 L522.25 341.05 L522.5 341.42 L522.75 341.78 L523 342.14 L523.25 342.48 L523.5 342.8 L523.75 343.1 L524 343.39 L524.25 343.65 L524.5 343.89 L524.75 344.11 L525 344.31 L525.25 344.49 L525.5 344.65 L525.75 344.8 L526 344.92 L526.25 345.03 L526.5 345.13 L526.75 345.21 L527 345.28 L527.25 345.34 L527.5 345.4 L527.75 345.44 L528 345.48 L528.25 345.51 L528.5 345.53 L528.75 345.56 L529 345.57 L529.25 345.59 L529.5 345.6 L529.75 345.61 L530 345.62 L530.25 345.62 L530.5 345.63 L530.75 345.63 L531 345.63 L531.25 345.63 L531.5 345.63 L533.5 345.63 L533.75 345.63 L534 345.63 L534.25 345.63 L534.5 345.63 L534.75 345.62 L535 345.62 L535.25 345.62 L535.5 345.62 L535.75 345.61 L536 345.6 L536.25 345.59 L536.5 345.57 L536.75 345.53 L537 345.48 L537.25 345.4 L537.5 345.29 L537.75 345.13 L538 344.92 L538.25 344.64 L538.5 344.3 L538.75 343.89 L539 343.44 L539.25 342.97 L539.5 342.52 L539.75 342.17 L540 342 L540.25 342.17 L540.5 342.52 L540.75 342.96 L541 343.43 L541.25 343.88 L541.5 344.28 L541.75 344.63 L542 344.9 L542.25 345.11 L542.5 345.26 L542.75 345.37 L543 345.44 L543.25 345.49 L543.5 345.51 L543.75 345.51 L544 345.5 L544.25 345.48 L544.5 345.44 L544.75 345.38 L545 345.29 L545.25 345.17 L545.5 345 L545.75 344.79 L546 344.52 L546.25 344.18 L546.5 343.76 L546.75 343.28 L547 342.72 L547.25 342.11 L547.5 341.47 L547.75 340.83 L548 340.24 L548.25 339.75 L548.5 339.44 L548.75 339.48 L549 339.83 L549.25 340.35 L549.5 340.95 L549.75 341.59 L550 342.23 L550.25 342.82 L550.5 343.36 L550.75 343.83 L551 344.23 L551.25 344.55 L551.5 344.81 L551.75 345.01 L552 345.16 L552.25 345.27 L552.5 345.35 L552.75 345.41 L553 345.45 L553.25 345.48 L553.5 345.5 L553.75 345.51 L554 345.52 L554.25 345.52 L554.5 345.52 L555.5 345.52 L555.75 345.52 L556 345.52 L556.25 345.52 L556.5 345.52 L556.75 345.52 L557 345.51 L557.25 345.51 L557.5 345.51 L557.75 345.5 L558 345.5 L558.25 345.48 L558.5 345.46 L558.75 345.42 L559 345.35 L559.25 345.25 L559.5 345.09 L559.75 344.84 L560 344.48 L560.25 343.97 L560.5 343.26 L560.75 342.33 L561 341.15 L561.25 339.73 L561.5 338.09 L561.75 336.34 L562 334.61 L562.25 333.12 L562.5 332.14 L562.75 332.26 L563 333.33 L563.25 334.84 L563.5 336.54 L563.75 338.21 L564 339.73 L564.25 341.01 L564.5 342.01 L564.75 342.73 L565 343.19 L565.25 343.41 L565.5 343.42 L565.75 343.24 L566 342.89 L566.25 342.38 L566.5 341.7 L566.75 340.84 L567 339.8 L567.25 338.55 L567.5 337.08 L567.75 335.36 L568 333.37 L568.25 331.11 L568.5 328.56 L568.75 325.7 L569 322.56 L569.25 319.14 L569.5 315.46 L569.75 311.58 L570 307.53 L570.25 303.41 L570.5 299.29 L570.75 295.29 L571 291.54 L571.25 288.17 L571.5 285.37 L571.75 283.33 L572 282.4 L572.25 282.83 L572.5 283.77 L572.75 285.11 L573 286.75 L573.25 288.66 L573.5 290.78 L573.75 293.06 L574 295.48 L574.25 297.99 L574.5 300.56 L574.75 303.17 L575 305.78 L575.25 308.37 L575.5 310.92 L575.75 313.41 L576 315.83 L576.25 318.16 L576.5 320.39 L576.75 322.52 L577 324.54 L577.25 326.44 L577.5 328.23 L577.75 329.89 L578 331.44 L578.25 332.87 L578.5 334.19 L578.75 335.4 L579 336.51 L579.25 337.52 L579.5 338.43 L579.75 339.25 L580 340 L580.25 340.66 L580.5 341.24 L580.75 341.76 L581 342.2 L581.25 342.56 L581.5 342.83 L581.75 342.99 L582 343.03 L582.25 342.92 L582.5 342.63 L582.75 342.15 L583 341.51 L583.25 340.74 L583.5 339.95 L583.75 339.29 L584 339 L584.25 339.45 L584.5 340.27 L584.75 341.24 L585 342.19 L585.25 343.04 L585.5 343.73 L585.75 344.26 L586 344.64 L586.25 344.9 L586.5 345.07 L586.75 345.18 L587 345.25 L587.25 345.29 L587.5 345.31 L587.75 345.33 L588 345.33 L588.25 345.34 L588.5 345.34 L588.75 345.34 L589 345.34 L589.25 345.33 L589.5 345.32 L589.75 345.31 L590 345.28 L590.25 345.23 L590.5 345.15 L590.75 345.03 L591 344.86 L591.25 344.62 L591.5 344.29 L591.75 343.85 L592 343.29 L592.25 342.62 L592.5 341.85 L592.75 341.03 L593 340.22 L593.25 339.52 L593.5 339.06 L593.75 339.13 L594 339.64 L594.25 340.37 L594.5 341.19 L594.75 342 L595 342.75 L595.25 343.4 L595.5 343.93 L595.75 344.34 L596 344.65 L596.25 344.88 L596.5 345.03 L596.75 345.14 L597 345.2 L597.25 345.25 L597.5 345.27 L597.75 345.28 L598 345.28 L598.25 345.27 L598.5 345.26 L598.75 345.23 L599 345.19 L599.25 345.12 L599.5 345.03 L599.75 344.89 L600 344.69 L600.25 344.41 L600.5 344.01 L600.75 343.45 L601 342.7 L601.25 341.68 L601.5 340.33 L601.75 338.57 L602 336.32 L602.25 333.49 L602.5 329.99 L602.75 325.76 L603 320.75 L603.25 314.94 L603.5 308.37 L603.75 301.16 L604 293.47 L604.25 285.59 L604.5 277.87 L604.75 270.79 L605 264.91 L605.25 260.95 L605.5 260.25 L605.75 262.06 L606 265.06 L606.25 268.94 L606.5 273.45 L606.75 278.4 L607 283.63 L607.25 288.98 L607.5 294.33 L607.75 299.57 L608 304.61 L608.25 309.39 L608.5 313.86 L608.75 317.98 L609 321.74 L609.25 325.13 L609.5 328.16 L609.75 330.83 L610 333.17 L610.25 335.2 L610.5 336.94 L610.75 338.43 L611 339.69 L611.25 340.74 L611.5 341.61 L611.75 342.33 L612 342.92 L612.25 343.39 L612.5 343.76 L612.75 344.03 L613 344.23 L613.25 344.35 L613.5 344.39 L613.75 344.35 L614 344.23 L614.25 344.02 L614.5 343.72 L614.75 343.34 L615 342.91 L615.25 342.45 L615.5 342.01 L615.75 341.66 L616 341.5 L616.25 341.68 L616.5 342.05 L616.75 342.5 L617 342.99 L617.25 343.45 L617.5 343.87 L617.75 344.22 L618 344.5 L618.25 344.72 L618.5 344.88 L618.75 344.99 L619 345.07 L619.25 345.12 L619.5 345.15 L619.75 345.17 L620 345.18 L620.25 345.11 L620.5 345.05 L620.75 344.97 L621 344.89 L621.25 344.8 L621.5 344.69 L621.75 344.56 L622 344.4 L622.25 344.2 L622.5 343.96 L622.75 343.64 L623 343.25 L623.25 342.75 L623.5 342.15 L623.75 341.41 L624 340.54 L624.25 339.53 L624.5 338.4 L624.75 337.18 L625 335.9 L625.25 334.65 L625.5 333.5 L625.75 332.57 L626 332 L626.25 332.11 L626.5 332.56 L626.75 333.16 L627 333.77 L627.25 334.28 L627.5 334.58 L627.75 334.59 L628 334.24 L628.25 333.48 L628.5 332.28 L628.75 330.63 L629 328.52 L629.25 325.98 L629.5 323.06 L629.75 319.82 L630 316.36 L630.25 312.83 L630.5 309.38 L630.75 306.23 L631 303.62 L631.25 301.85 L631.5 301.49 L631.75 302.24 L632 303.52 L632.25 305.19 L632.5 307.16 L632.75 309.33 L633 311.63 L633.25 313.99 L633.5 316.36 L633.75 318.69 L634 320.94 L634.25 323.14 L634.5 325.2 L634.75 327.1 L635 328.84 L635.25 330.4 L635.5 331.79 L635.75 333.01 L636 334.08 L636.25 334.99 L636.5 335.77 L636.75 336.43 L637 336.97 L637.25 337.43 L637.5 337.8 L637.75 338.12 L638 338.35 L638.25 338.48 L638.5 338.49 L638.75 338.35 L639 338.04 L639.25 337.53 L639.5 336.8 L639.75 335.81 L640 334.58 L640.25 333.09 L640.5 331.37 L640.75 329.49 L641 327.53 L641.25 325.61 L641.5 323.9 L641.75 322.6 L642 322 L642.25 322.59 L642.5 323.83 L642.75 325.46 L643 327.3 L643.25 329.22 L643.5 331.11 L643.75 332.89 L644 334.51 L644.25 335.93 L644.5 337.15 L644.75 338.16 L645 338.98 L645.25 339.63 L645.5 340.12 L645.75 340.49 L646 340.74 L646.25 340.89 L646.5 340.95 L646.75 340.92 L647 340.81 L647.25 340.6 L647.5 340.3 L647.75 339.87 L648 339.31 L648.25 338.6 L648.5 337.72 L648.75 336.66 L649 335.42 L649.25 334.01 L649.5 332.46 L649.75 330.82 L650 329.15 L650.25 327.56 L650.5 326.16 L650.75 325.09 L651 324.6 L651.25 325.01 L651.5 325.88 L651.75 327.06 L652 328.43 L652.25 329.89 L652.5 331.38 L652.75 332.82 L653 334.18 L653.25 335.43 L653.5 336.54 L653.75 337.51 L654 338.34 L654.25 339.03 L654.5 339.61 L654.75 340.07 L655 340.43 L655.25 340.71 L655.5 340.92 L655.75 341.07 L656 341.17 L656.25 341.21 L656.5 341.21 L656.75 341.17 L657 341.06 L657.25 340.9 L657.5 340.66 L657.75 340.32 L658 339.88 L658.25 339.28 L658.5 338.52 L658.75 337.55 L659 336.34 L659.25 334.85 L659.5 333.06 L659.75 330.95 L660 328.49 L660.25 325.71 L660.5 322.62 L660.75 319.28 L661 315.77 L661.25 312.23 L661.5 308.81 L661.75 305.69 L662 303.13 L662.25 301.41 L662.5 301.13 L662.75 302.12 L663 303.75 L663.25 305.84 L663.5 308.25 L663.75 310.86 L664 313.59 L664.25 316.34 L664.5 319.04 L664.75 321.63 L665 324.07 L665.25 326.32 L665.5 328.37 L665.75 330.2 L666 331.81 L666.25 333.19 L666.5 334.37 L666.75 335.35 L667 336.15 L667.25 336.78 L667.5 337.28 L667.75 337.66 L668 337.94 L668.25 338.15 L668.5 338.32 L668.75 338.46 L669 338.6 L669.25 338.83 L669.5 339.11 L669.75 339.41 L670 339.72 L670.25 340.02 L670.5 340.3 L670.75 340.56 L671 340.78 L671.25 340.96 L671.4 341.06 L671.5 339.27 L671.75 334.78 L672 330.27 L672.25 325.73 L672.3 324.82 L672.5 294.87 L672.75 257.41 L673 219.94 L673.25 189.02 L673.5 158.1 L673.75 127.17 L673.8 120.98 L674 116.39 L674.25 110.64 L674.4 107.19 L674.5 109.5 L674.75 115.25 L675 121 L675.25 132.25 L675.5 143.5 L675.75 154.75 L676 166 L676.25 177.25 L676.5 188.5 L676.75 199.75 L677 211 L677.2 220 L677.25 221.43 L677.5 228.57 L677.75 235.71 L678 242.85 L678.25 250 L678.5 257.14 L678.6 259.99 L678.75 266.2 L679 276.55 L679.25 286.89 L679.5 297.22 L679.75 307.53 L680 317.82 L680.25 321.71 L680.5 325.54 L680.75 329.29 L681 332.91 L681.25 333.74 L681.5 334.33 L681.75 334.6 L682 334.47 L682.25 332.87 L682.5 330.64 L682.75 327.64 L683 323.78 L683.2 320 L683.25 318.87 L683.5 312.64 L683.75 305.48 L684 297.55 L684.25 289.11 L684.5 280.59 L684.75 272.57 L685 265.77 L685.25 261.12 L685.5 260.27 L685.75 262.27 L686 265.56 L686.25 269.78 L686.5 274.65 L686.75 279.94 L687 285.46 L687.25 291.04 L687.5 296.54 L687.75 301.84 L688 306.85 L688.25 311.52 L688.5 315.8 L688.75 319.66 L689 323.11 L689.25 326.15 L689.5 328.79 L689.75 331.07 L690 333.02 L690.25 334.66 L690.5 336.03 L690.75 337.16 L691 338.09 L691.25 338.85 L691.5 339.46 L691.75 339.94 L692 340.33 L692.25 340.63 L692.5 340.86 L692.75 341.05 L693 341.19 L693.25 341.29 L693.5 341.37 L693.75 341.43 L694 341.47 L694.25 341.49 L694.5 341.5 L694.75 341.49 L695 341.46 L695.25 341.4 L695.5 341.3 L695.75 341.15 L696 340.93 L696.25 340.61 L696.5 340.15 L696.75 339.54 L697 338.72 L697.25 337.65 L697.5 336.32 L697.75 334.7 L698 332.8 L698.25 330.66 L698.5 328.34 L698.75 325.99 L699 323.78 L699.25 321.94 L699.5 320.76 L699.75 320.89 L700 322.08 L700.25 323.83 L700.5 325.89 L700.75 328.07 L701 330.22 L701.25 332.24 L701.5 334.05 L701.75 335.59 L702 336.86 L702.25 337.84 L702.5 338.54 L702.75 338.97 L703 339.13 L703.25 339.03 L703.5 338.66 L703.75 338 L704 337.04 L704.25 335.76 L704.5 334.16 L704.75 332.24 L705 330.03 L705.25 327.58 L705.5 325 L705.75 322.41 L706 320.01 L706.25 318.03 L706.5 316.78 L706.75 316.84 L707 317.86 L707.25 319.41 L707.5 321.28 L707.75 323.35 L708 325.48 L708.25 327.58 L708.5 329.58 L708.75 331.43 L709 333.08 L709.25 334.53 L709.5 335.76 L709.75 336.79 L710 337.63 L710.25 338.29 L710.5 338.81 L710.75 339.19 L711 339.46 L711.25 339.65 L711.5 339.76 L711.75 339.81 L712 339.82 L712.25 339.79 L712.5 339.74 L712.75 339.66 L713 339.58 L713.25 339.48 L713.5 339.38 L713.75 339.27 L714 339.16 L714.25 339.06 L714.5 338.96 L714.75 338.87 L715 338.79 L715.25 338.72 L715.5 338.66 L715.75 338.62 L716 338.6 L716.25 338.62 L716.5 338.66 L716.75 338.72 L717 338.79 L717.25 338.87 L717.5 338.97 L717.75 339.07 L718 339.17 L718.25 339.28 L718.5 339.39 L718.75 339.49 L719 339.6 L719.25 339.69 L719.5 339.77 L719.75 339.83 L720 339.87 L720.25 339.87 L720.5 339.82 L720.75 339.72 L721 339.54 L721.25 339.28 L721.5 338.92 L721.75 338.45 L722 337.87 L722.25 337.17 L722.5 336.37 L722.75 335.49 L723 334.58 L723.25 333.68 L723.5 332.89 L723.75 332.28 L724 332 L724.25 332.31 L724.5 332.95 L724.75 333.77 L725 334.68 L725.25 335.61 L725.5 336.49 L725.75 337.27 L726 337.94 L726.25 338.48 L726.5 338.88 L726.75 339.16 L727 339.31 L727.25 339.36 L727.5 339.32 L727.75 339.21 L728 339.04 L728.25 338.82 L728.5 338.58 L728.75 338.31 L729 338.04 L729.25 337.77 L729.5 337.5 L729.75 337.28 L730 337 L730.25 336.61 L730.5 336.04 L730.75 335.19 L731 333.98 L731.25 332.31 L731.5 330.07 L731.75 327.14 L732 323.42 L732.25 318.81 L732.5 313.24 L732.75 306.66 L733 299.11 L733.25 290.68 L733.5 281.55 L733.75 272.02 L734 262.48 L734.25 253.46 L734.5 245.61 L734.75 239.73 L735 237 L735.25 238.8 L735.5 242.7 L735.75 248.03 L736 254.36 L736.25 261.35 L736.5 268.69 L736.75 276.12 L737 283.44 L737.25 290.47 L737.5 297.07 L737.75 303.14 L738 308.62 L738.25 313.47 L738.5 317.68 L738.75 321.25 L739 324.22 L739.25 326.62 L739.5 328.5 L739.75 329.92 L740 330.95 L740.25 331.67 L740.5 332.15 L740.75 332.48 L741 332.75 L741.25 333.09 L741.5 333.63 L741.75 334.2 L742 334.72 L742.25 335.13 L742.5 335.34 L742.75 335.3 L743 334.93 L743.25 334.15 L743.5 332.88 L743.75 331.07 L744 328.64 L744.25 325.57 L744.5 321.83 L744.75 317.45 L745 312.51 L745.25 307.14 L745.5 301.56 L745.75 296.07 L746 291.04 L746.25 286.93 L746.5 284.36 L746.75 284.48 L747 286.5 L747.25 289.56 L747.5 293.31 L747.75 297.49 L748 301.9 L748.25 306.33 L748.5 310.65 L748.75 314.73 L749 318.49 L749.25 321.87 L749.5 324.84 L749.75 327.39 L750 329.52 L750.25 331.27 L750.5 332.66 L750.75 333.73 L751 334.53 L751.25 335.09 L751.5 335.46 L751.75 335.7 L752 335.84 L752.25 335.92 L752.5 336 L752.75 336.16 L753 336.34 L753.25 336.49 L753.5 336.61 L753.75 336.66 L754 336.64 L754.25 336.54 L754.5 336.36 L754.75 336.11 L755 335.8 L755.25 335.49 L755.5 335.2 L755.75 335.01 L756 335 L756.25 335.34 L756.5 335.87 L756.75 336.51 L757 337.18 L757.25 337.86 L757.5 338.51 L757.75 339.1 L758 339.61 L758.25 340.05 L758.5 340.42 L758.75 340.71 L759 340.93 L759.25 341.09 L759.5 341.2 L759.75 341.26 L760 341.28 L760.25 341.25 L760.5 341.18 L760.75 341.06 L761 340.88 L761.25 340.64 L761.5 340.32 L761.75 339.93 L762 339.46 L762.25 338.92 L762.5 338.3 L762.75 337.63 L763 336.94 L763.25 336.27 L763.5 335.67 L763.75 335.21 L764 335 L764.25 335.21 L764.5 335.67 L764.75 336.27 L765 336.94 L765.25 337.63 L765.5 338.3 L765.75 338.92 L766 339.47 L766.25 339.94 L766.5 340.33 L766.75 340.65 L767 340.91 L767.25 341.1 L767.5 341.25 L767.75 341.35 L768 341.43 L768.25 341.49 L768.5 341.52 L768.75 341.55 L769 341.56 L769.25 341.57 L769.5 341.57 L769.75 341.56 L770 341.55 L770.25 341.54 L770.5 341.51 L770.75 341.47 L771 341.42 L771.25 341.36 L771.5 341.26 L771.75 341.15 L772 340.99 L772.25 340.79 L772.5 340.55 L772.75 340.24 L773 339.87 L773.25 339.43 L773.5 338.92 L773.75 338.33 L774 337.67 L774.25 336.95 L774.5 336.19 L774.75 335.4 L775 334.63 L775.25 333.9 L775.5 333.28 L775.75 332.81 L776 332.6 L776.25 332.75 L776.5 333.09 L776.75 333.55 L777 334.09 L777.25 334.7 L777.5 335.33 L777.75 335.97 L778 336.61 L778.25 337.22 L778.5 337.8 L778.75 338.33 L779 338.82 L779.25 339.26 L779.5 339.64 L779.75 339.98 L780 340.27 L780.25 340.52 L780.5 340.73 L780.75 340.91 L781 341.05 L781.25 341.17 L781.5 341.27 L781.75 341.34 L782 341.4 L782.25 341.45 L782.5 341.49 L782.75 341.51 L783 341.54 L783.25 341.55 L783.5 341.57 L783.75 341.58 L784 341.58 L784.25 341.59 L784.5 341.59 L784.75 341.59 L785 341.6 L785.25 341.6 L832 341.6 L832.25 341.6 L832.5 341.59 L832.75 341.59 L833 341.58 L833.25 341.58 L833.5 341.56 L833.75 341.54 L834 341.5 L834.25 341.45 L834.5 341.38 L834.75 341.27 L835 341.12 L835.25 340.91 L835.5 340.62 L835.75 340.22 L836 339.71 L836.25 339.03 L836.5 338.18 L836.75 337.11 L837 335.82 L837.25 334.28 L837.5 332.51 L837.75 330.52 L838 328.36 L838.25 326.11 L838.5 323.88 L838.75 321.8 L839 320.06 L839.25 318.88 L839.5 318.72 L839.75 319.56 L840 320.94 L840.25 322.65 L840.5 324.56 L840.75 326.56 L841 328.56 L841.25 330.47 L841.5 332.26 L841.75 333.87 L842 335.3 L842.25 336.54 L842.5 337.59 L842.75 338.46 L843 339.18 L843.25 339.76 L843.5 340.21 L843.75 340.57 L844 340.84 L844.25 341.05 L844.5 341.21 L844.75 341.32 L845 341.41 L845.25 341.47 L845.5 341.51 L845.75 341.54 L846 341.56 L846.25 341.57 L846.5 341.58 L846.75 341.59 L847 341.59 L847.25 341.6 L847.5 341.6 L847.75 341.6 L857.25 341.6 L857.5 341.6 L857.75 341.59 L858 341.59 L858.25 341.59 L858.5 341.58 L858.75 341.57 L859 341.56 L859.25 341.54 L859.5 341.51 L859.75 341.47 L860 341.42 L860.25 341.35 L860.5 341.24 L860.75 341.1 L861 340.91 L861.25 340.66 L861.5 340.33 L861.75 339.89 L862 339.33 L862.25 338.61 L862.5 337.71 L862.75 336.58 L863 335.18 L863.25 333.49 L863.5 331.46 L863.75 329.06 L864 326.27 L864.25 323.06 L864.5 319.45 L864.75 315.44 L865 311.1 L865.25 306.49 L865.5 301.72 L865.75 296.94 L866 292.32 L866.25 288.08 L866.5 284.48 L866.75 281.82 L867 280.6 L867.25 281.38 L867.5 283.11 L867.75 285.5 L868 288.39 L868.25 291.64 L868.5 295.13 L868.75 298.77 L869 302.46 L869.25 306.13 L869.5 309.71 L869.75 313.14 L870 316.4 L870.25 319.45 L870.5 322.26 L870.75 324.84 L871 327.17 L871.25 329.26 L871.5 331.12 L871.75 332.75 L872 334.18 L872.25 335.42 L872.5 336.48 L872.75 337.38 L873 338.15 L873.25 338.79 L873.5 339.33 L873.75 339.77 L874 340.14 L874.25 340.44 L874.5 340.68 L874.75 340.88 L875 341.04 L875.25 341.16 L875.5 341.26 L875.75 341.34 L876 341.4 L876.25 341.45 L876.5 341.48 L876.75 341.51 L877 341.54 L877.25 341.55 L877.5 341.56 L877.75 341.57 L878 341.58 L878.25 341.59 L878.5 341.59 L878.75 341.59 L879 341.59 L879.25 341.6 L879.5 341.6 L957.5 341.6"/><use href="#ta" transform="translate(0 0.9)"/></g>
<g clip-path="url(#cb)" fill="none" stroke="#000" stroke-width="2.15" stroke-linejoin="round"><path id="tb" transform="translate(0 -0.5)" d="M121.5 699.8 L141.6 699.8 L141.75 674.64 L142 632.71 L142.25 590.79 L142.5 548.86 L142.75 506.93 L143 465 L143.25 477.76 L143.5 490.52 L143.75 503.28 L144 516.04 L144.25 528.8 L144.5 541.57 L144.75 554.33 L145 567.09 L145.25 579.85 L145.5 592.61 L145.75 605.37 L146 618.13 L146.25 630.89 L146.5 643.65 L146.75 656.4 L147 669.14 L147.25 681.87 L147.5 694.56 L147.6 699.62 L147.75 699.53 L148 699.27 L148.25 698.82 L148.5 698.06 L148.75 696.81 L149 694.88 L149.25 692.02 L149.5 688.04 L149.75 682.8 L150 676.4 L150.25 669.2 L150.5 661.99 L150.75 655.97 L151 653 L151.25 655.54 L151.5 660.77 L151.75 667.2 L152 673.84 L152.25 680.02 L152.5 685.34 L152.75 689.63 L153 692.91 L153.25 695.29 L153.5 696.95 L153.75 698.06 L154 698.77 L154.25 699.21 L154.5 699.47 L154.75 699.62 L155 699.71 L155.25 699.75 L155.5 699.78 L155.75 699.79 L156 699.79 L156.25 699.8 L156.5 699.8 L158 699.8 L158.25 699.8 L158.5 699.79 L158.75 699.79 L159 699.78 L159.25 699.77 L159.5 699.74 L159.75 699.7 L160 699.63 L160.25 699.52 L160.5 699.36 L160.75 699.12 L161 698.76 L161.25 698.26 L161.5 697.56 L161.75 696.64 L162 695.45 L162.25 693.97 L162.5 692.2 L162.75 690.18 L163 687.99 L163.25 685.78 L163.5 683.75 L163.75 682.16 L164 681.4 L164.25 682 L164.5 683.27 L164.75 684.93 L165 686.81 L165.25 688.73 L165.5 690.6 L165.75 692.33 L166 693.86 L166.25 695.18 L166.5 696.27 L166.75 697.16 L167 697.86 L167.25 698.41 L167.5 698.81 L167.75 699.12 L168 699.33 L168.25 699.49 L168.5 699.59 L168.75 699.67 L169 699.71 L169.25 699.75 L169.5 699.77 L169.75 699.78 L170 699.79 L170.25 699.79 L170.5 699.8 L170.75 699.8 L171 699.8 L177 699.8 L177.25 699.8 L177.5 699.8 L177.75 699.79 L178 699.78 L178.25 699.77 L178.5 699.74 L178.75 699.7 L179 699.63 L179.25 699.51 L179.5 699.32 L179.75 699.02 L180 698.57 L180.25 697.91 L180.5 696.96 L180.75 695.62 L181 693.8 L181.25 691.42 L181.5 688.38 L181.75 684.67 L182 680.3 L182.25 675.42 L182.5 670.27 L182.75 665.22 L183 660.82 L183.25 657.75 L183.5 657.3 L183.75 659.43 L184 662.81 L184.25 666.93 L184.5 671.37 L184.75 675.82 L185 680.05 L185.25 683.9 L185.5 687.27 L185.75 690.12 L186 692.48 L186.25 694.37 L186.5 695.84 L186.75 696.97 L187 697.81 L187.25 698.43 L187.5 698.87 L187.75 699.18 L188 699.39 L188.25 699.54 L188.5 699.63 L188.75 699.7 L189 699.74 L189.25 699.76 L189.5 699.78 L189.75 699.79 L190 699.79 L190.25 699.8 L190.5 699.8 L190.75 699.8 L192.75 699.8 L193 699.8 L193.25 699.8 L193.5 699.79 L193.75 699.78 L194 699.76 L194.25 699.73 L194.5 699.68 L194.75 699.6 L195 699.46 L195.25 699.27 L195.5 699 L195.75 698.64 L196 698.2 L196.25 697.71 L196.5 697.21 L196.75 696.8 L197 696.6 L197.25 696.8 L197.5 697.21 L197.75 697.71 L198 698.2 L198.25 698.64 L198.5 699 L198.75 699.27 L199 699.46 L199.25 699.6 L199.5 699.68 L199.75 699.73 L200 699.76 L200.25 699.78 L200.5 699.79 L200.75 699.8 L201 699.8 L201.25 699.8 L209.25 699.8 L209.5 699.8 L209.75 699.79 L210 699.79 L210.25 699.79 L210.5 699.78 L210.75 699.78 L211 699.77 L211.25 699.76 L211.5 699.74 L211.75 699.72 L212 699.7 L212.25 699.66 L212.5 699.62 L212.75 699.57 L213 699.51 L213.25 699.43 L213.5 699.33 L213.75 699.22 L214 699.1 L214.25 698.95 L214.5 698.78 L214.75 698.6 L215 698.4 L215.25 698.19 L215.5 697.97 L215.75 697.75 L216 697.54 L216.25 697.34 L216.5 697.18 L216.75 697.06 L217 697 L217.25 697.06 L217.5 697.18 L217.75 697.34 L218 697.54 L218.25 697.75 L218.5 697.97 L218.75 698.19 L219 698.4 L219.25 698.6 L219.5 698.78 L219.75 698.95 L220 699.1 L220.25 699.22 L220.5 699.33 L220.75 699.43 L221 699.51 L221.25 699.57 L221.5 699.62 L221.75 699.66 L222 699.7 L222.25 699.72 L222.5 699.74 L222.75 699.76 L223 699.77 L223.25 699.78 L223.5 699.78 L223.75 699.79 L224 699.79 L224.25 699.79 L224.5 699.8 L224.75 699.8 L230 699.8 L230.25 699.8 L230.5 699.8 L230.75 699.79 L231 699.79 L231.25 699.79 L231.5 699.78 L231.75 699.77 L232 699.76 L232.25 699.75 L232.5 699.73 L232.75 699.7 L233 699.66 L233.25 699.62 L233.5 699.56 L233.75 699.48 L234 699.37 L234.25 699.24 L234.5 699.08 L234.75 698.88 L235 698.62 L235.25 698.31 L235.5 697.94 L235.75 697.49 L236 696.95 L236.25 696.33 L236.5 695.6 L236.75 694.77 L237 693.83 L237.25 692.78 L237.5 691.63 L237.75 690.39 L238 689.07 L238.25 687.7 L238.5 686.3 L238.75 684.91 L239 683.58 L239.25 682.36 L239.5 681.3 L239.75 680.48 L240 680 L240.25 680.06 L240.5 680.37 L240.75 680.81 L241 681.29 L241.25 681.74 L241.5 682.08 L241.75 682.25 L242 682.17 L242.25 681.78 L242.5 681.04 L242.75 679.88 L243 678.31 L243.25 676.3 L243.5 673.88 L243.75 671.12 L244 668.1 L244.25 664.96 L244.5 661.87 L244.75 659.03 L245 656.72 L245.25 655.25 L245.5 655.23 L245.75 656.35 L246 658 L246.25 660.03 L246.5 662.34 L246.75 664.84 L247 667.47 L247.25 670.15 L247.5 672.84 L247.75 675.47 L248 678.01 L248.25 680.44 L248.5 682.71 L248.75 684.83 L249 686.78 L249.25 688.55 L249.5 690.14 L249.75 691.57 L250 692.83 L250.25 693.93 L250.5 694.89 L250.75 695.72 L251 696.43 L251.25 697.03 L251.5 697.54 L251.75 697.97 L252 698.32 L252.25 698.61 L252.5 698.85 L252.75 699.05 L253 699.21 L253.25 699.33 L253.5 699.44 L253.75 699.51 L254 699.57 L254.25 699.62 L254.5 699.64 L254.75 699.65 L255 699.62 L255.25 699.57 L255.5 699.46 L255.75 699.3 L256 699.07 L256.25 698.77 L256.5 698.39 L256.75 697.96 L257 697.53 L257.25 697.18 L257.5 697 L257.75 697.18 L258 697.54 L258.25 697.97 L258.5 698.4 L258.75 698.78 L259 699.1 L259.25 699.33 L259.5 699.51 L259.75 699.62 L260 699.7 L260.25 699.74 L260.5 699.77 L260.75 699.78 L261 699.79 L261.25 699.8 L261.5 699.8 L261.75 699.8 L274.5 699.8 L274.75 699.8 L275 699.8 L275.25 699.79 L275.5 699.78 L275.75 699.76 L276 699.72 L276.25 699.66 L276.5 699.55 L276.75 699.37 L277 699.08 L277.25 698.67 L277.5 698.09 L277.75 697.33 L278 696.4 L278.25 695.35 L278.5 694.31 L278.75 693.43 L279 693 L279.25 693.43 L279.5 694.31 L279.75 695.35 L280 696.4 L280.25 697.33 L280.5 698.09 L280.75 698.67 L281 699.08 L281.25 699.37 L281.5 699.55 L281.75 699.66 L282 699.72 L282.25 699.76 L282.5 699.78 L282.75 699.79 L283 699.79 L283.25 699.78 L283.5 699.77 L283.75 699.75 L284 699.71 L284.25 699.55 L284.5 699.35 L284.75 699.07 L285 698.67 L285.25 698.09 L285.5 697.25 L285.75 696.04 L286 694.32 L286.25 691.92 L286.5 688.65 L286.75 684.33 L287 678.78 L287.25 671.89 L287.5 663.69 L287.75 654.33 L288 644.21 L288.25 633.98 L288.5 624.56 L288.75 617.16 L289 613.6 L289.25 615.2 L289.5 618.79 L289.75 623.69 L290 629.47 L290.25 635.78 L290.5 642.32 L290.75 648.83 L291 655.12 L291.25 661.05 L291.5 666.51 L291.75 671.42 L292 675.77 L292.25 679.64 L292.5 682.96 L292.75 685.76 L293 688.1 L293.25 690.02 L293.5 691.58 L293.75 692.83 L294 693.82 L294.25 694.59 L294.5 695.19 L294.75 695.64 L295 695.99 L295.25 696.24 L295.5 696.43 L295.75 696.57 L296 696.67 L296.25 696.74 L296.5 696.79 L296.75 696.82 L297 696.84 L297.25 696.85 L297.5 696.86 L297.75 696.86 L298 696.86 L298.25 696.86 L298.5 696.86 L298.75 696.86 L299 696.85 L299.25 696.85 L299.5 696.84 L299.75 696.84 L300 696.83 L300.25 696.83 L300.5 696.82 L300.75 696.82 L301 696.81 L301.25 696.81 L301.5 696.8 L301.75 696.8 L302 696.79 L302.25 696.79 L302.5 696.78 L302.75 696.78 L303 696.77 L303.25 696.76 L303.5 696.76 L303.75 696.75 L304 696.73 L304.25 696.71 L304.5 696.69 L304.75 696.65 L305 696.59 L305.25 696.51 L305.5 696.39 L305.75 696.23 L306 696.01 L306.25 695.72 L306.5 695.37 L306.75 694.95 L307 694.48 L307.25 694 L307.5 693.54 L307.75 693.18 L308 693 L308.25 693.17 L308.5 693.52 L308.75 693.97 L309 694.44 L309.25 694.9 L309.5 695.3 L309.75 695.65 L310 695.92 L310.25 696.13 L310.5 696.28 L310.75 696.39 L311 696.46 L311.25 696.49 L311.5 696.51 L311.75 696.5 L312 696.47 L312.25 696.42 L312.5 696.34 L312.75 696.23 L313 696.08 L313.25 695.88 L313.5 695.64 L313.75 695.35 L314 695.03 L314.25 694.69 L314.5 694.38 L314.75 694.12 L315 694 L315.25 694.11 L315.5 694.35 L315.75 694.66 L316 694.98 L316.25 695.28 L316.5 695.55 L316.75 695.76 L317 695.91 L317.25 695.99 L317.5 695.98 L317.75 695.86 L318 695.61 L318.25 695.17 L318.5 694.47 L318.75 693.39 L319 691.82 L319.25 689.59 L319.5 686.53 L319.75 682.44 L320 677.17 L320.25 670.62 L320.5 662.79 L320.75 653.85 L321 644.18 L321.25 634.4 L321.5 625.4 L321.75 618.36 L322 615 L322.25 617.63 L322.5 623.25 L322.75 630.61 L323 638.88 L323.25 647.38 L323.5 655.61 L323.75 663.19 L324 669.9 L324.25 675.61 L324.5 680.26 L324.75 683.89 L325 686.52 L325.25 688.2 L325.5 688.97 L325.75 688.86 L326 687.86 L326.25 686 L326.5 683.31 L326.75 679.89 L327 675.93 L327.25 671.72 L327.5 667.73 L327.75 664.53 L328 663 L328.25 664.09 L328.5 666.4 L328.75 669.41 L329 672.78 L329.25 676.25 L329.5 679.62 L329.75 682.72 L330 685.47 L330.25 687.83 L330.5 689.78 L330.75 691.33 L331 692.51 L331.25 693.34 L331.5 693.86 L331.75 694.09 L332 694.05 L332.25 693.75 L332.5 693.25 L332.75 692.59 L333 691.89 L333.25 691.29 L333.5 691 L333.75 691.34 L334 692 L334.25 692.78 L334.5 693.56 L334.75 694.24 L335 694.78 L335.25 695.17 L335.5 695.41 L335.75 695.51 L336 695.47 L336.25 695.3 L336.5 695 L336.75 694.57 L337 694.03 L337.25 693.41 L337.5 692.78 L337.75 692.26 L338 692 L338.25 692.25 L338.5 692.77 L338.75 693.38 L339 694 L339.25 694.55 L339.5 694.99 L339.75 695.33 L340 695.57 L340.25 695.74 L340.5 695.84 L340.75 695.9 L341 695.92 L341.25 695.92 L341.5 695.89 L341.75 695.83 L342 695.74 L342.25 695.59 L342.5 695.39 L342.75 695.12 L343 694.79 L343.25 694.43 L343.5 694.06 L343.75 693.75 L344 693.6 L344.25 693.75 L344.5 694.05 L344.75 694.42 L345 694.79 L345.25 695.11 L345.5 695.37 L345.75 695.58 L346 695.72 L346.25 695.82 L346.5 695.88 L346.75 695.92 L347 695.94 L347.25 695.95 L347.5 695.96 L347.75 695.96 L348.5 695.96 L348.75 695.96 L349 695.95 L349.25 695.95 L349.5 695.95 L349.75 695.95 L350 695.95 L350.25 695.95 L350.5 695.95 L350.75 695.95 L351 695.94 L351.25 695.94 L351.5 695.94 L351.75 695.94 L352 695.94 L352.25 695.94 L352.5 695.94 L352.75 695.94 L353 695.93 L353.25 695.93 L353.5 695.93 L353.75 695.93 L354 695.93 L354.25 695.93 L354.5 695.92 L354.75 695.92 L355 695.91 L355.25 695.9 L355.5 695.89 L355.75 695.87 L356 695.85 L356.25 695.81 L356.5 695.76 L356.75 695.7 L357 695.61 L357.25 695.5 L357.5 695.36 L357.75 695.18 L358 694.97 L358.25 694.73 L358.5 694.46 L358.75 694.16 L359 693.86 L359.25 693.56 L359.5 693.3 L359.75 693.1 L360 693 L360.25 693.09 L360.5 693.29 L360.75 693.55 L361 693.85 L361.25 694.15 L361.5 694.44 L361.75 694.71 L362 694.95 L362.25 695.16 L362.5 695.33 L362.75 695.47 L363 695.58 L363.25 695.66 L363.5 695.73 L363.75 695.77 L364 695.81 L364.25 695.83 L364.5 695.84 L364.75 695.86 L365 695.86 L365.25 695.87 L365.5 695.87 L366.75 695.87 L367 695.86 L367.25 695.86 L367.5 695.86 L367.75 695.86 L368 695.86 L368.25 695.86 L368.5 695.86 L368.75 695.86 L369 695.85 L369.25 695.85 L369.5 695.85 L369.75 695.85 L370 695.85 L370.25 695.85 L370.5 695.85 L370.75 695.85 L371 695.84 L371.25 695.84 L371.5 695.84 L371.75 695.84 L372 695.84 L372.25 695.84 L372.5 695.84 L372.75 695.84 L373 695.83 L373.25 695.83 L373.5 695.83 L373.75 695.83 L374 695.83 L374.25 695.83 L374.5 695.82 L374.75 695.82 L375 695.81 L375.25 695.8 L375.5 695.78 L375.75 695.74 L376 695.69 L376.25 695.62 L376.5 695.51 L376.75 695.38 L377 695.21 L377.25 695.02 L377.5 694.83 L377.75 694.68 L378 694.6 L378.25 694.68 L378.5 694.83 L378.75 695.02 L379 695.2 L379.25 695.36 L379.5 695.5 L379.75 695.6 L380 695.67 L380.25 695.72 L380.5 695.75 L380.75 695.77 L381 695.78 L381.25 695.79 L381.5 695.79 L382.25 695.79 L382.5 695.79 L382.75 695.79 L383 695.78 L383.25 695.78 L383.5 695.78 L383.75 695.78 L384 695.78 L384.25 695.78 L384.5 695.78 L384.75 695.78 L385 695.77 L385.25 695.77 L385.5 695.77 L385.75 695.77 L386 695.77 L386.25 695.77 L386.5 695.77 L386.75 695.76 L387 695.76 L387.25 695.76 L387.5 695.76 L387.75 695.75 L388 695.74 L388.25 695.73 L388.5 695.72 L388.75 695.7 L389 695.67 L389.25 695.62 L389.5 695.56 L389.75 695.48 L390 695.36 L390.25 695.2 L390.5 694.97 L390.75 694.68 L391 694.28 L391.25 693.77 L391.5 693.11 L391.75 692.28 L392 691.24 L392.25 689.97 L392.5 688.44 L392.75 686.62 L393 684.52 L393.25 682.14 L393.5 679.49 L393.75 676.63 L394 673.64 L394.25 670.61 L394.5 667.68 L394.75 665.01 L395 662.82 L395.25 661.35 L395.5 661.15 L395.75 662.22 L396 663.97 L396.25 666.18 L396.5 668.7 L396.75 671.37 L397 674.1 L397.25 676.79 L397.5 679.35 L397.75 681.74 L398 683.93 L398.25 685.89 L398.5 687.6 L398.75 689.09 L399 690.34 L399.25 691.39 L399.5 692.24 L399.75 692.91 L400 693.43 L400.25 693.8 L400.5 694.05 L400.75 694.18 L401 694.19 L401.25 694.09 L401.5 693.87 L401.75 693.53 L402 693.05 L402.25 692.41 L402.5 691.59 L402.75 690.57 L403 689.31 L403.25 687.77 L403.5 685.92 L403.75 683.72 L404 681.12 L404.25 678.07 L404.5 674.55 L404.75 670.52 L405 665.95 L405.25 660.83 L405.5 655.15 L405.75 648.93 L406 642.22 L406.25 635.08 L406.5 627.6 L406.75 619.91 L407 612.16 L407.25 604.54 L407.5 597.28 L407.75 590.64 L408 584.92 L408.25 580.47 L408.5 577.77 L408.75 577.9 L409 580.04 L409.25 583.33 L409.5 587.52 L409.75 592.41 L410 597.83 L410.25 603.63 L410.5 609.68 L410.75 615.85 L411 622.05 L411.25 628.19 L411.5 634.17 L411.75 639.95 L412 645.47 L412.25 650.69 L412.5 655.59 L412.75 660.14 L413 664.33 L413.25 668.16 L413.5 671.64 L413.75 674.77 L414 677.56 L414.25 680.01 L414.5 682.13 L414.75 683.9 L415 685.29 L415.25 686.27 L415.5 686.75 L415.75 686.6 L416 685.67 L416.25 683.74 L416.5 680.57 L416.75 675.87 L417 669.4 L417.25 660.97 L417.5 650.55 L417.75 638.33 L418 624.83 L418.25 610.95 L418.5 598.02 L418.75 587.83 L419 583 L419.25 584 L419.5 586.09 L419.75 588.99 L420 592.54 L420.25 596.6 L420.5 601.06 L420.75 605.84 L421 610.83 L421.25 615.96 L421.5 621.16 L421.75 626.35 L422 631.49 L422.25 636.51 L422.5 641.39 L422.75 646.09 L423 650.57 L423.25 654.81 L423.5 658.81 L423.75 662.55 L424 666.02 L424.25 669.22 L424.5 672.16 L424.75 674.84 L425 677.27 L425.25 679.45 L425.5 681.39 L425.75 683.11 L426 684.6 L426.25 685.88 L426.5 686.96 L426.75 687.83 L427 688.51 L427.25 688.98 L427.5 689.26 L427.75 689.33 L428 689.18 L428.25 688.82 L428.5 688.23 L428.75 687.41 L429 686.33 L429.25 685.01 L429.5 683.43 L429.75 681.61 L430 679.55 L430.25 677.28 L430.5 674.82 L430.75 672.22 L431 669.55 L431.25 666.87 L431.5 664.27 L431.75 661.86 L432 659.77 L432.25 658.13 L432.5 657.13 L432.75 657.09 L433 657.45 L433.25 658.01 L433.5 658.73 L433.75 659.58 L434 660.54 L434.25 661.6 L434.5 662.74 L434.75 663.95 L435 665.2 L435.25 666.5 L435.5 667.82 L435.75 669.16 L436 670.51 L436.25 671.85 L436.5 673.18 L436.75 674.49 L437 675.78 L437.25 677.03 L437.5 678.25 L437.75 679.43 L438 680.56 L438.25 681.65 L438.5 682.69 L438.75 683.67 L439 684.61 L439.25 685.5 L439.5 686.33 L439.75 687.11 L440 687.85 L440.25 688.53 L440.5 689.17 L440.75 689.76 L441 690.3 L441.25 690.81 L441.5 691.27 L441.75 691.7 L442 692.09 L442.25 692.44 L442.5 692.77 L442.75 693.06 L443 693.32 L443.25 693.57 L443.5 693.78 L443.75 693.98 L444 694.15 L444.25 694.31 L444.5 694.45 L444.75 694.57 L445 694.68 L445.25 694.78 L445.5 694.87 L445.75 694.94 L446 695.01 L446.25 695.07 L446.5 695.12 L446.75 695.17 L447 695.21 L447.25 695.24 L447.5 695.27 L447.75 695.3 L448 695.32 L448.25 695.34 L448.5 695.35 L448.75 695.37 L449 695.38 L449.25 695.39 L449.5 695.39 L449.75 695.39 L450 695.39 L450.25 695.38 L450.5 695.35 L450.75 695.3 L451 695.22 L451.25 695.11 L451.5 694.94 L451.75 694.73 L452 694.47 L452.25 694.17 L452.5 693.87 L452.75 693.62 L453 693.5 L453.25 693.62 L453.5 693.87 L453.75 694.17 L454 694.46 L454.25 694.73 L454.5 694.94 L454.75 695.1 L455 695.22 L455.25 695.3 L455.5 695.35 L455.75 695.37 L456 695.39 L456.25 695.39 L456.5 695.39 L456.75 695.37 L457 695.35 L457.25 695.31 L457.5 695.25 L457.75 695.16 L458 695.02 L458.25 694.83 L458.5 694.56 L458.75 694.17 L459 693.64 L459.25 692.92 L459.5 691.96 L459.75 690.71 L460 689.1 L460.25 687.09 L460.5 684.61 L460.75 681.65 L461 678.19 L461.25 674.26 L461.5 669.93 L461.75 665.35 L462 660.7 L462.25 656.25 L462.5 652.34 L462.75 649.38 L463 648 L463.25 648.95 L463.5 651.01 L463.75 653.81 L464 657.1 L464.25 660.69 L464.5 664.4 L464.75 668.1 L465 671.68 L465.25 675.06 L465.5 678.16 L465.75 680.97 L466 683.46 L466.25 685.63 L466.5 687.49 L466.75 689.07 L467 690.38 L467.25 691.46 L467.5 692.34 L467.75 693.04 L468 693.6 L468.25 694.03 L468.5 694.37 L468.75 694.63 L469 694.82 L469.25 694.97 L469.5 695.08 L469.75 695.15 L470 695.21 L470.25 695.25 L470.5 695.28 L470.75 695.3 L471 695.31 L471.25 695.32 L471.5 695.33 L471.75 695.33 L472 695.33 L473.25 695.33 L473.5 695.33 L473.75 695.33 L474 695.33 L474.25 695.33 L474.5 695.32 L474.75 695.32 L475 695.32 L475.25 695.31 L475.5 695.31 L475.75 695.3 L476 695.29 L476.25 695.28 L476.5 695.26 L476.75 695.23 L477 695.19 L477.25 695.14 L477.5 695.07 L477.75 694.97 L478 694.84 L478.25 694.68 L478.5 694.45 L478.75 694.16 L479 693.77 L479.25 693.28 L479.5 692.65 L479.75 691.85 L480 690.84 L480.25 689.59 L480.5 688.05 L480.75 686.17 L481 683.91 L481.25 681.2 L481.5 678 L481.75 674.27 L482 669.96 L482.25 665.06 L482.5 659.56 L482.75 653.46 L483 646.81 L483.25 639.69 L483.5 632.2 L483.75 624.5 L484 616.77 L484.25 609.26 L484.5 602.24 L484.75 596.05 L485 591.06 L485.25 587.78 L485.5 587.21 L485.75 588.73 L486 591.27 L486.25 594.6 L486.5 598.55 L486.75 602.99 L487 607.79 L487.25 612.86 L487.5 618.1 L487.75 623.41 L488 628.73 L488.25 633.98 L488.5 639.11 L488.75 644.08 L489 648.83 L489.25 653.35 L489.5 657.6 L489.75 661.58 L490 665.28 L490.25 668.7 L490.5 671.82 L490.75 674.67 L491 677.25 L491.25 679.58 L491.5 681.66 L491.75 683.51 L492 685.15 L492.25 686.59 L492.5 687.86 L492.75 688.97 L493 689.93 L493.25 690.76 L493.5 691.48 L493.75 692.09 L494 692.61 L494.25 693.05 L494.5 693.43 L494.75 693.74 L495 694.01 L495.25 694.23 L495.5 694.41 L495.75 694.56 L496 694.68 L496.25 694.79 L496.5 694.87 L496.75 694.94 L497 694.99 L497.25 695.04 L497.5 695.07 L497.75 695.1 L498 695.12 L498.25 695.14 L498.5 695.15 L498.75 695.16 L499 695.17 L499.25 695.18 L499.5 695.18 L499.75 695.18 L500.25 695.18 L500.5 695.18 L500.75 695.18 L501 695.17 L501.25 695.15 L501.5 695.13 L501.75 695.1 L502 695.05 L502.25 694.98 L502.5 694.88 L502.75 694.74 L503 694.54 L503.25 694.26 L503.5 693.88 L503.75 693.37 L504 692.68 L504.25 691.77 L504.5 690.59 L504.75 689.08 L505 687.16 L505.25 684.79 L505.5 681.89 L505.75 678.41 L506 674.31 L506.25 669.58 L506.5 664.23 L506.75 658.33 L507 651.98 L507.25 645.38 L507.5 638.75 L507.75 632.41 L508 626.74 L508.25 622.19 L508.5 619.39 L508.75 619.36 L509 620.91 L509.25 623.28 L509.5 626.29 L509.75 629.78 L510 633.62 L510.25 637.71 L510.5 641.94 L510.75 646.21 L511 650.47 L511.25 654.63 L511.5 658.65 L511.75 662.48 L512 666.1 L512.25 669.47 L512.5 672.59 L512.75 675.44 L513 678.03 L513.25 680.36 L513.5 682.44 L513.75 684.28 L514 685.9 L514.25 687.3 L514.5 688.51 L514.75 689.54 L515 690.41 L515.25 691.13 L515.5 691.72 L515.75 692.18 L516 692.52 L516.25 692.76 L516.5 692.91 L516.75 692.96 L517 692.92 L517.25 692.8 L517.5 692.6 L517.75 692.32 L518 691.97 L518.25 691.55 L518.5 691.07 L518.75 690.53 L519 689.95 L519.25 689.33 L519.5 688.7 L519.75 688.08 L520 687.48 L520.25 686.94 L520.5 686.49 L520.75 686.15 L521 686 L521.25 686.09 L521.5 686.3 L521.75 686.58 L522 686.93 L522.25 687.32 L522.5 687.75 L522.75 688.2 L523 688.67 L523.25 689.15 L523.5 689.62 L523.75 690.09 L524 690.54 L524.25 690.97 L524.5 691.39 L524.75 691.78 L525 692.14 L525.25 692.48 L525.5 692.79 L525.75 693.07 L526 693.33 L526.25 693.56 L526.5 693.77 L526.75 693.95 L527 694.11 L527.25 694.25 L527.5 694.37 L527.75 694.48 L528 694.57 L528.25 694.65 L528.5 694.72 L528.75 694.78 L529 694.82 L529.25 694.86 L529.5 694.9 L529.75 694.93 L530 694.95 L530.25 694.97 L530.5 694.98 L530.75 694.99 L531 695 L531.25 695.01 L531.5 695.02 L531.75 695.02 L532 695.02 L532.25 695.03 L532.5 695.03 L532.75 695.03 L534.75 695.03 L535 695.02 L535.25 695.02 L535.5 695.02 L535.75 695.02 L536 695.02 L536.25 695.02 L536.5 695.01 L536.75 695.01 L537 695 L537.25 694.99 L537.5 694.97 L537.75 694.94 L538 694.9 L538.25 694.83 L538.5 694.74 L538.75 694.61 L539 694.43 L539.25 694.2 L539.5 693.92 L539.75 693.58 L540 693.21 L540.25 692.81 L540.5 692.44 L540.75 692.14 L541 692 L541.25 692.14 L541.5 692.42 L541.75 692.79 L542 693.17 L542.25 693.54 L542.5 693.87 L542.75 694.15 L543 694.37 L543.25 694.54 L543.5 694.66 L543.75 694.75 L544 694.8 L544.25 694.82 L544.5 694.82 L544.75 694.8 L545 694.76 L545.25 694.7 L545.5 694.61 L545.75 694.49 L546 694.33 L546.25 694.11 L546.5 693.85 L546.75 693.52 L547 693.12 L547.25 692.67 L547.5 692.15 L547.75 691.59 L548 691.02 L548.25 690.46 L548.5 689.96 L548.75 689.58 L549 689.4 L549.25 689.57 L549.5 689.95 L549.75 690.43 L550 690.98 L550.25 691.55 L550.5 692.1 L550.75 692.61 L551 693.06 L551.25 693.44 L551.5 693.76 L551.75 694.02 L552 694.23 L552.25 694.38 L552.5 694.5 L552.75 694.58 L553 694.64 L553.25 694.69 L553.5 694.71 L553.75 694.73 L554 694.74 L554.25 694.75 L554.5 694.75 L554.75 694.75 L555 694.75 L555.25 694.74 L555.5 694.74 L555.75 694.74 L556 694.73 L556.25 694.73 L556.5 694.72 L556.75 694.72 L557 694.72 L557.25 694.71 L557.5 694.71 L557.75 694.7 L558 694.7 L558.25 694.7 L558.5 694.69 L558.75 694.69 L559 694.68 L559.25 694.68 L559.5 694.67 L559.75 694.67 L560 694.66 L560.25 694.66 L560.5 694.65 L560.75 694.64 L561 694.62 L561.25 694.59 L561.5 694.55 L561.75 694.48 L562 694.37 L562.25 694.21 L562.5 694 L562.75 693.72 L563 693.37 L563.25 692.98 L563.5 692.57 L563.75 692.22 L564 692 L564.25 692.07 L564.5 692.26 L564.75 692.47 L565 692.64 L565.25 692.7 L565.5 692.62 L565.75 692.37 L566 691.95 L566.25 691.32 L566.5 690.47 L566.75 689.37 L567 687.98 L567.25 686.27 L567.5 684.18 L567.75 681.67 L568 678.7 L568.25 675.21 L568.5 671.17 L568.75 666.54 L569 661.31 L569.25 655.48 L569.5 649.1 L569.75 642.2 L570 634.9 L570.25 627.31 L570.5 619.62 L570.75 612.05 L571 604.85 L571.25 598.33 L571.5 592.84 L571.75 588.84 L572 587 L572.25 587.87 L572.5 589.82 L572.75 592.54 L573 595.89 L573.25 599.75 L573.5 604 L573.75 608.55 L574 613.31 L574.25 618.21 L574.5 623.17 L574.75 628.14 L575 633.05 L575.25 637.86 L575.5 642.52 L575.75 647.01 L576 651.3 L576.25 655.37 L576.5 659.2 L576.75 662.78 L577 666.11 L577.25 669.19 L577.5 672.02 L577.75 674.61 L578 676.96 L578.25 679.09 L578.5 681.01 L578.75 682.73 L579 684.26 L579.25 685.61 L579.5 686.81 L579.75 687.86 L580 688.77 L580.25 689.56 L580.5 690.23 L580.75 690.8 L581 691.25 L581.25 691.61 L581.5 691.86 L581.75 692 L582 692.04 L582.25 691.97 L582.5 691.77 L582.75 691.45 L583 691 L583.25 690.44 L583.5 689.77 L583.75 689.03 L584 688.24 L584.25 687.46 L584.5 686.77 L584.75 686.24 L585 686 L585.25 686.28 L585.5 686.86 L585.75 687.61 L586 688.44 L586.25 689.3 L586.5 690.13 L586.75 690.89 L587 691.57 L587.25 692.14 L587.5 692.62 L587.75 692.99 L588 693.28 L588.25 693.49 L588.5 693.62 L588.75 693.68 L589 693.67 L589.25 693.59 L589.5 693.43 L589.75 693.19 L590 692.85 L590.25 692.4 L590.5 691.82 L590.75 691.1 L591 690.23 L591.25 689.22 L591.5 688.08 L591.75 686.85 L592 685.58 L592.25 684.34 L592.5 683.24 L592.75 682.4 L593 682 L593.25 682.39 L593.5 683.22 L593.75 684.32 L594 685.54 L594.25 686.81 L594.5 688.03 L594.75 689.16 L595 690.17 L595.25 691.03 L595.5 691.74 L595.75 692.32 L596 692.76 L596.25 693.1 L596.5 693.33 L596.75 693.47 L597 693.54 L597.25 693.51 L597.5 693.4 L597.75 693.17 L598 692.79 L598.25 692.23 L598.5 691.4 L598.75 690.23 L599 688.61 L599.25 686.41 L599.5 683.48 L599.75 679.65 L600 674.73 L600.25 668.57 L600.5 661 L600.75 651.93 L601 641.34 L601.25 629.32 L601.5 616.09 L601.75 602.06 L602 587.84 L602.25 574.24 L602.5 562.27 L602.75 553.22 L603 549 L603.25 550.86 L603.5 554.96 L603.75 560.63 L604 567.49 L604.25 575.2 L604.5 583.51 L604.75 592.15 L605 600.91 L605.25 609.62 L605.5 618.12 L605.75 626.28 L606 634.02 L606.25 641.26 L606.5 647.95 L606.75 654.06 L607 659.6 L607.25 664.56 L607.5 668.97 L607.75 672.85 L608 676.24 L608.25 679.17 L608.5 681.69 L608.75 683.83 L609 685.65 L609.25 687.17 L609.5 688.44 L609.75 689.49 L610 690.35 L610.25 691.05 L610.5 691.61 L610.75 692.04 L611 692.38 L611.25 692.61 L611.5 692.76 L611.75 692.82 L612 692.8 L612.25 692.71 L612.5 692.53 L612.75 692.29 L613 691.99 L613.25 691.67 L613.5 691.36 L613.75 691.12 L614 691 L614.25 691.14 L614.5 691.41 L614.75 691.74 L615 692.1 L615.25 692.44 L615.5 692.75 L615.75 693 L616 693.21 L616.25 693.36 L616.5 693.48 L616.75 693.56 L617 693.61 L617.25 693.65 L617.5 693.67 L617.75 693.68 L618 693.68 L618.25 693.67 L618.5 693.66 L618.75 693.65 L619 693.63 L619.25 693.59 L619.5 693.54 L619.75 693.48 L620 693.38 L620.25 693.25 L620.5 693.06 L620.75 692.81 L621 692.46 L621.25 691.99 L621.5 691.37 L621.75 690.56 L622 689.5 L622.25 688.17 L622.5 686.49 L622.75 684.42 L623 681.91 L623.25 678.92 L623.5 675.42 L623.75 671.41 L624 666.92 L624.25 662.01 L624.5 656.8 L624.75 651.43 L625 646.13 L625.25 641.16 L625.5 636.85 L625.75 633.59 L626 632 L626.25 632.87 L626.5 634.94 L626.75 637.81 L627 641.21 L627.25 644.93 L627.5 648.81 L627.75 652.67 L628 656.4 L628.25 659.88 L628.5 663.05 L628.75 665.85 L629 668.24 L629.25 670.23 L629.5 671.82 L629.75 673.03 L630 673.92 L630.25 674.53 L630.5 674.93 L630.75 675.19 L631 675.39 L631.25 675.62 L631.5 676 L631.75 676.59 L632 677.17 L632.25 677.73 L632.5 678.28 L632.75 678.82 L633 679.36 L633.25 679.9 L633.5 680.44 L633.75 680.98 L634 681.53 L634.25 682.07 L634.5 682.62 L634.75 683.16 L635 683.69 L635.25 684.2 L635.5 684.7 L635.75 685.18 L636 685.62 L636.25 686.02 L636.5 686.37 L636.75 686.64 L637 686.82 L637.25 686.89 L637.5 686.82 L637.75 686.59 L638 686.16 L638.25 685.52 L638.5 684.65 L638.75 683.55 L639 682.23 L639.25 680.73 L639.5 679.12 L639.75 677.49 L640 675.99 L640.25 674.77 L640.5 674.06 L640.75 674.31 L641 675.37 L641.25 676.85 L641.5 678.57 L641.75 680.41 L642 682.25 L642.25 684 L642.5 685.62 L642.75 687.06 L643 688.31 L643.25 689.37 L643.5 690.24 L643.75 690.94 L644 691.49 L644.25 691.92 L644.5 692.24 L644.75 692.47 L645 692.63 L645.25 692.73 L645.5 692.78 L645.75 692.77 L646 692.7 L646.25 692.58 L646.5 692.39 L646.75 692.12 L647 691.75 L647.25 691.26 L647.5 690.63 L647.75 689.84 L648 688.89 L648.25 687.76 L648.5 686.44 L648.75 684.97 L649 683.37 L649.25 681.69 L649.5 680.03 L649.75 678.47 L650 677.16 L650.25 676.24 L650.5 676.05 L650.75 676.5 L651 677.27 L651.25 678.25 L651.5 679.37 L651.75 680.56 L652 681.76 L652.25 682.92 L652.5 684.01 L652.75 685.01 L653 685.89 L653.25 686.65 L653.5 687.28 L653.75 687.78 L654 688.17 L654.25 688.45 L654.5 688.63 L654.75 688.73 L655 688.76 L655.25 688.73 L655.5 688.66 L655.75 688.55 L656 688.43 L656.25 688.31 L656.5 688.18 L656.75 688.08 L657 688 L657.25 687.98 L657.5 687.98 L657.75 687.99 L658 687.98 L658.25 687.95 L658.5 687.9 L658.75 687.81 L659 687.67 L659.25 687.46 L659.5 687.18 L659.75 686.83 L660 686.38 L660.25 685.76 L660.5 685.04 L660.75 684.22 L661 683.32 L661.25 682.33 L661.5 681.27 L661.75 680.18 L662 679.06 L662.25 677.97 L662.5 676.94 L662.75 676.01 L663 675.23 L663.25 674.68 L663.5 674.57 L663.75 675.3 L664 676.43 L664.25 677.71 L664.5 678.93 L664.75 679.91 L665 680.59 L665.25 680.96 L665.5 681.09 L665.75 681.18 L666 681.5 L666.25 682.52 L666.5 683.84 L666.6 683.7 L666.75 682.85 L667 681.33 L667.25 679.62 L667.3 679.25 L667.5 675.97 L667.75 671.65 L668 667.14 L668.25 653.47 L668.5 639.68 L668.75 598.15 L668.8 589.83 L669 571.89 L669.25 549.44 L669.5 526.96 L669.75 504.48 L669.8 499.98 L670 439.99 L670.25 373.32 L670.3 359.99 L670.5 344.99 L670.75 326.25 L671 307.5 L671.1 300 L671.25 310 L671.5 326.66 L671.75 343.33 L672 360 L672.25 372.5 L672.5 385 L672.75 397.5 L673 410 L673.25 422.5 L673.5 435 L673.6 440 L673.75 464.37 L674 505 L674.25 508.75 L674.5 512.5 L674.75 516.25 L675 520 L675.25 553.33 L675.3 560 L675.5 620 L675.75 629.37 L676 638.75 L676.25 648.12 L676.3 649.99 L676.5 653.99 L676.75 658.99 L677 663.98 L677.25 668.97 L677.4 671.95 L677.5 672.86 L677.75 675.12 L678 677.37 L678.25 679.59 L678.5 681.78 L678.6 682.64 L678.75 682.9 L679 683.28 L679.25 683.57 L679.5 683.76 L679.75 683.8 L680 683.35 L680.25 682.42 L680.5 681.24 L680.75 679.76 L681 677.96 L681.25 675.83 L681.5 673.36 L681.75 670.59 L682 667.58 L682.25 664.45 L682.5 661.34 L682.75 658.45 L683 656.03 L683.25 654.39 L683.5 654.12 L683.75 654.98 L684 656.38 L684.25 658.16 L684.5 660.21 L684.75 662.43 L685 664.72 L685.25 667.03 L685.5 669.27 L685.75 671.42 L686 673.43 L686.25 675.28 L686.5 676.96 L686.75 678.46 L687 679.78 L687.25 680.93 L687.5 681.92 L687.75 682.76 L688 683.47 L688.25 684.06 L688.5 684.54 L688.75 684.94 L689 685.26 L689.25 685.52 L689.5 685.72 L689.75 685.88 L690 686.01 L690.25 686.11 L690.5 686.19 L690.75 686.25 L691 686.3 L691.25 686.34 L691.5 686.36 L691.75 686.38 L692 686.38 L692.25 686.38 L692.5 686.36 L692.75 686.31 L693 686.25 L693.25 686.14 L693.5 685.98 L693.75 685.75 L694 685.44 L694.25 685.01 L694.5 684.44 L694.75 683.7 L695 682.78 L695.25 681.66 L695.5 680.32 L695.75 678.78 L696 677.07 L696.25 675.25 L696.5 673.42 L696.75 671.69 L697 670.23 L697.25 669.24 L697.5 669.11 L697.75 669.91 L698 671.19 L698.25 672.75 L698.5 674.46 L698.75 676.2 L699 677.88 L699.25 679.44 L699.5 680.84 L699.75 682.06 L700 683.08 L700.25 683.91 L700.5 684.57 L700.75 685.05 L701 685.39 L701.25 685.57 L701.5 685.61 L701.75 685.5 L702 685.22 L702.25 684.75 L702.5 684.06 L702.75 683.12 L703 681.89 L703.25 680.34 L703.5 678.44 L703.75 676.19 L704 673.61 L704.25 670.78 L704.5 667.78 L704.75 664.79 L705 662.01 L705.25 659.7 L705.5 658.22 L705.75 658.25 L706 659.37 L706.25 661.08 L706.5 663.15 L706.75 665.41 L707 667.73 L707.25 669.99 L707.5 672.1 L707.75 674 L708 675.64 L708.25 677 L708.5 678.08 L708.75 678.89 L709 679.44 L709.25 679.76 L709.5 679.87 L709.75 679.82 L710 679.62 L710.25 679.31 L710.5 678.93 L710.75 678.52 L711 678.09 L711.25 677.69 L711.5 677.34 L711.75 677.1 L712 677 L712.25 677.17 L712.5 677.5 L712.75 677.94 L713 678.46 L713.25 679.04 L713.5 679.65 L713.75 680.29 L714 680.92 L714.25 681.53 L714.5 682.11 L714.75 682.65 L715 683.13 L715.25 683.54 L715.5 683.87 L715.75 684.11 L716 684.23 L716.25 684.22 L716.5 684.06 L716.75 683.72 L717 683.17 L717.25 682.38 L717.5 681.29 L717.75 679.87 L718 678.06 L718.25 675.82 L718.5 673.09 L718.75 669.84 L719 666.02 L719.25 661.63 L719.5 656.66 L719.75 651.14 L720 645.15 L720.25 638.78 L720.5 632.19 L720.75 625.58 L721 619.19 L721.25 613.33 L721.5 608.35 L721.75 604.68 L722 603 L722.25 604.17 L722.5 606.74 L722.75 610.27 L723 614.53 L723.25 619.3 L723.5 624.4 L723.75 629.68 L724 635.01 L724.25 640.26 L724.5 645.35 L724.75 650.2 L725 654.74 L725.25 658.95 L725.5 662.78 L725.75 666.23 L726 669.29 L726.25 671.95 L726.5 674.23 L726.75 676.11 L727 677.62 L727.25 678.74 L727.5 679.48 L727.75 679.82 L728 679.75 L728.25 679.23 L728.5 678.23 L728.75 676.7 L729 674.6 L729.25 671.87 L729.5 668.46 L729.75 664.32 L730 659.42 L730.25 653.73 L730.5 647.26 L730.75 640.07 L731 632.24 L731.25 623.91 L731.5 615.28 L731.75 606.62 L732 598.24 L732.25 590.55 L732.5 584.02 L732.75 579.2 L733 577 L733.25 578.44 L733.5 581.59 L733.75 585.95 L734 591.22 L734.25 597.14 L734.5 603.51 L734.75 610.13 L735 616.86 L735.25 623.54 L735.5 630.05 L735.75 636.32 L736 642.25 L736.25 647.8 L736.5 652.93 L736.75 657.61 L737 661.85 L737.25 665.65 L737.5 669.01 L737.75 671.96 L738 674.51 L738.25 676.7 L738.5 678.55 L738.75 680.07 L739 681.3 L739.25 682.25 L739.5 682.92 L739.75 683.34 L740 683.5 L740.25 683.39 L740.5 683 L740.75 682.32 L741 681.33 L741.25 680 L741.5 678.31 L741.75 676.25 L742 673.78 L742.25 670.91 L742.5 667.65 L742.75 664.01 L743 660.04 L743.25 655.81 L743.5 651.43 L743.75 647.04 L744 642.79 L744.25 638.88 L744.5 635.56 L744.75 633.12 L745 632 L745.25 633.14 L745.5 635.6 L745.75 638.93 L746 642.85 L746.25 647.11 L746.5 651.52 L746.75 655.9 L747 660.14 L747.25 664.11 L747.5 667.75 L747.75 671.02 L748 673.89 L748.25 676.36 L748.5 678.44 L748.75 680.15 L749 681.51 L749.25 682.57 L749.5 683.36 L749.75 683.91 L750 684.26 L750.25 684.44 L750.5 684.5 L750.75 684.46 L751 684.36 L751.25 684.23 L751.5 684.1 L751.75 684.01 L752 684 L752.25 684.12 L752.5 684.3 L752.75 684.53 L753 684.78 L753.25 685.06 L753.5 685.35 L753.75 685.65 L754 685.95 L754.25 686.24 L754.5 686.52 L754.75 686.79 L755 687.05 L755.25 687.29 L755.5 687.5 L755.75 687.7 L756 687.88 L756.25 688.04 L756.5 688.18 L756.75 688.3 L757 688.4 L757.25 688.49 L757.5 688.56 L757.75 688.62 L758 688.67 L758.25 688.69 L758.5 688.7 L758.75 688.69 L759 688.66 L759.25 688.59 L759.5 688.5 L759.75 688.36 L760 688.18 L760.25 687.96 L760.5 687.69 L760.75 687.35 L761 686.95 L761.25 686.48 L761.5 685.97 L761.75 685.43 L762 684.87 L762.25 684.34 L762.5 683.88 L762.75 683.54 L763 683.4 L763.25 683.57 L763.5 683.91 L763.75 684.36 L764 684.87 L764.25 685.41 L764.5 685.97 L764.75 686.5 L765 687.01 L765.25 687.48 L765.5 687.9 L765.75 688.28 L766 688.6 L766.25 688.87 L766.5 689.11 L766.75 689.3 L767 689.46 L767.25 689.59 L767.5 689.7 L767.75 689.79 L768 689.87 L768.25 689.93 L768.5 689.98 L768.75 690.02 L769 690.05 L769.25 690.07 L769.5 690.09 L769.75 690.09 L770 690.08 L770.25 690.05 L770.5 690.01 L770.75 689.93 L771 689.83 L771.25 689.69 L771.5 689.51 L771.75 689.27 L772 688.98 L772.25 688.63 L772.5 688.21 L772.75 687.73 L773 687.18 L773.25 686.58 L773.5 685.95 L773.75 685.29 L774 684.65 L774.25 684.05 L774.5 683.53 L774.75 683.16 L775 683 L775.25 683.16 L775.5 683.49 L775.75 683.92 L776 684.43 L776.25 684.98 L776.5 685.57 L776.75 686.16 L777 686.75 L777.25 687.31 L777.5 687.85 L777.75 688.34 L778 688.8 L778.25 689.21 L778.5 689.58 L778.75 689.91 L779 690.19 L779.25 690.44 L779.5 690.66 L779.75 690.84 L780 691 L780.25 691.13 L780.5 691.25 L780.75 691.34 L781 691.43 L781.25 691.47 L781.5 691.5 L781.75 691.53 L782 691.54 L782.25 691.56 L782.5 691.57 L782.75 691.58 L783 691.58 L783.25 691.59 L783.5 691.59 L783.75 691.59 L784 691.6 L784.25 691.6 L831 691.6 L831.25 691.6 L831.5 691.6 L831.75 691.59 L832 691.59 L832.25 691.58 L832.5 691.57 L832.75 691.55 L833 691.51 L833.25 691.47 L833.5 691.4 L833.75 691.3 L834 691.15 L834.25 690.95 L834.5 690.66 L834.75 690.27 L835 689.75 L835.25 689.06 L835.5 688.17 L835.75 687.04 L836 685.64 L836.25 683.95 L836.5 681.95 L836.75 679.66 L837 677.1 L837.25 674.35 L837.5 671.5 L837.75 668.71 L838 666.16 L838.25 664.08 L838.5 662.78 L838.75 662.89 L839 664.12 L839.25 665.95 L839.5 668.17 L839.75 670.62 L840 673.15 L840.25 675.65 L840.5 678.04 L840.75 680.24 L841 682.24 L841.25 683.99 L841.5 685.5 L841.75 686.78 L842 687.84 L842.25 688.71 L842.5 689.4 L842.75 689.95 L843 690.38 L843.25 690.71 L843.5 690.95 L843.75 691.14 L844 691.27 L844.25 691.37 L844.5 691.44 L844.75 691.49 L845 691.53 L845.25 691.55 L845.5 691.57 L845.75 691.58 L846 691.59 L846.25 691.59 L846.5 691.59 L846.75 691.6 L847 691.6 L855.75 691.6 L856 691.6 L856.25 691.59 L856.5 691.59 L856.75 691.59 L857 691.58 L857.25 691.57 L857.5 691.55 L857.75 691.53 L858 691.5 L858.25 691.46 L858.5 691.4 L858.75 691.31 L859 691.19 L859.25 691.03 L859.5 690.81 L859.75 690.51 L860 690.12 L860.25 689.61 L860.5 688.94 L860.75 688.08 L861 687 L861.25 685.64 L861.5 683.96 L861.75 681.9 L862 679.43 L862.25 676.48 L862.5 673.02 L862.75 669.04 L863 664.51 L863.25 659.46 L863.5 653.93 L863.75 648.01 L864 641.82 L864.25 635.53 L864.5 629.35 L864.75 623.55 L865 618.45 L865.25 614.41 L865.5 611.94 L865.75 612.03 L866 613.87 L866.25 616.68 L866.5 620.23 L866.75 624.32 L867 628.79 L867.25 633.51 L867.5 638.33 L867.75 643.16 L868 647.91 L868.25 652.5 L868.5 656.87 L868.75 660.98 L869 664.8 L869.25 668.31 L869.5 671.49 L869.75 674.36 L870 676.92 L870.25 679.17 L870.5 681.15 L870.75 682.87 L871 684.35 L871.25 685.62 L871.5 686.69 L871.75 687.6 L872 688.36 L872.25 688.99 L872.5 689.51 L872.75 689.93 L873 690.28 L873.25 690.56 L873.5 690.78 L873.75 690.96 L874 691.11 L874.25 691.22 L874.5 691.31 L874.75 691.38 L875 691.43 L875.25 691.47 L875.5 691.5 L875.75 691.53 L876 691.55 L876.25 691.56 L876.5 691.57 L876.75 691.58 L877 691.58 L877.25 691.59 L877.5 691.59 L877.75 691.59 L878 691.6 L878.25 691.6 L884.5 691.6 L884.75 691.6 L885 691.59 L885.25 691.59 L885.5 691.57 L885.75 691.55 L886 691.51 L886.25 691.44 L886.5 691.34 L886.75 691.18 L887 690.96 L887.25 690.65 L887.5 690.27 L887.75 689.83 L888 689.36 L888.25 688.93 L888.5 688.64 L888.75 688.68 L889 689.01 L889.25 689.45 L889.5 689.92 L889.75 690.35 L890 690.72 L890.25 691.01 L890.5 691.22 L890.75 691.36 L891 691.46 L891.25 691.52 L891.5 691.56 L891.75 691.58 L892 691.59 L892.25 691.59 L892.5 691.6 L892.75 691.6 L957.5 691.6"/><use href="#tb" transform="translate(0 1)"/></g>
<path d="M154.5 350 L154.8 24 L156 22.3 L157.3 24 L157.9 350 Z" fill="#000"/>
<path d="M157.2 360.3 L158.6 360.3 L159 415 L159.2 700 L156.1 700 L156.4 415 Z" fill="#000"/>
<path d="M325.9 232 V253.3 H319.7 L327.8 270.6 L335.9 253.3 H329.7 V232 Z" fill="#000"/>
<path d="M716.3 202.4 V224.6 H709.9 L718.2 240.8 L726.5 224.6 H720.1 V202.4 Z" fill="#000"/>
<path d="M327.8 582 V603.6 H321.5 L329.7 620.8 L337.9 603.6 H331.6 V582 Z" fill="#000"/>
<path d="M718.1 553 V574.4 H711.8 L720 591 L728.2 574.4 H721.9 V553 Z" fill="#000"/>
<line x1="733.6" y1="573.6" x2="786.6" y2="516.2" stroke="#000" stroke-width="2.4" stroke-dasharray="2.3 2.4"/>
<text class="d" transform="translate(348.4 547.1) scale(1.1 1)" font-size="20" text-anchor="middle">35</text>
<text class="d" transform="translate(347.5 574.6) scale(1.1 1)" font-size="20" text-anchor="middle">min</text>
<text class="d" transform="translate(705.6 517.4) scale(1.1 1)" font-size="20" text-anchor="middle">100</text>
<text class="d" transform="translate(705.2 542.8) scale(1.1 1)" font-size="20" text-anchor="middle">min</text>
<text class="d" transform="translate(811.7 517.4) scale(1.1 1)" font-size="20" text-anchor="middle">102</text>
<text class="d" transform="translate(811.2 542.8) scale(1.1 1)" font-size="20" text-anchor="middle">min</text>
<text class="s" transform="translate(195.7 58.6) scale(0.9 1)" font-size="46" text-anchor="middle">A</text>
<text class="s" transform="translate(185.4 407.9) scale(0.92 1)" font-size="45" text-anchor="middle">B</text>
<text class="s" transform="translate(105.3 53) scale(0.92 1)" font-size="26.6" text-anchor="end">1.00</text>
<text class="s" transform="translate(105.3 111.2) scale(0.92 1)" font-size="26.6" text-anchor="end">0.80</text>
<text class="s" transform="translate(105.3 179.4) scale(0.92 1)" font-size="26.6" text-anchor="end">0.60</text>
<text class="s" transform="translate(105.3 237.6) scale(0.92 1)" font-size="26.6" text-anchor="end">0.40</text>
<text class="s" transform="translate(105.3 297.3) scale(0.92 1)" font-size="26.6" text-anchor="end">0.20</text>
<text class="s" transform="translate(105.3 364.4) scale(0.92 1)" font-size="26.6" text-anchor="end">0.00</text>
<text class="s" transform="translate(105.3 403.3) scale(0.92 1)" font-size="26.6" text-anchor="end">1.00</text>
<text class="s" transform="translate(105.3 461.5) scale(0.92 1)" font-size="26.6" text-anchor="end">0.80</text>
<text class="s" transform="translate(105.3 519.4) scale(0.92 1)" font-size="26.6" text-anchor="end">0.60</text>
<text class="s" transform="translate(105.3 587.6) scale(0.92 1)" font-size="26.6" text-anchor="end">0.40</text>
<text class="s" transform="translate(105.3 646.5) scale(0.92 1)" font-size="26.6" text-anchor="end">0.20</text>
<text class="s" transform="translate(105.3 715) scale(0.92 1)" font-size="26.6" text-anchor="end">0.00</text>
<text class="s" transform="translate(1003.3 33.5) scale(0.92 1)" font-size="26.6" text-anchor="end">100</text>
<text class="s" transform="translate(1000.2 101.6) scale(0.92 1)" font-size="26.6" text-anchor="end">80</text>
<text class="s" transform="translate(1000.2 158.6) scale(0.92 1)" font-size="26.6" text-anchor="end">60</text>
<text class="s" transform="translate(1000.2 223) scale(0.92 1)" font-size="26.6" text-anchor="end">40</text>
<text class="s" transform="translate(1000.2 281.5) scale(0.92 1)" font-size="26.6" text-anchor="end">20</text>
<text class="s" transform="translate(1004.8 344.7) scale(0.92 1)" font-size="26.6" text-anchor="end">0</text>
<text class="s" transform="translate(1003.3 383.6) scale(0.92 1)" font-size="26.6" text-anchor="end">100</text>
<text class="s" transform="translate(1000.2 446.5) scale(0.92 1)" font-size="26.6" text-anchor="end">80</text>
<text class="s" transform="translate(1000.2 508.6) scale(0.92 1)" font-size="26.6" text-anchor="end">60</text>
<text class="s" transform="translate(1000.2 570.8) scale(0.92 1)" font-size="26.6" text-anchor="end">40</text>
<text class="s" transform="translate(1000.2 631.5) scale(0.92 1)" font-size="26.6" text-anchor="end">20</text>
<text class="s" transform="translate(1004.8 695) scale(0.92 1)" font-size="26.6" text-anchor="end">0</text>
<text class="s" transform="translate(118.6 743.6) scale(1.05 1)" font-size="26.6" text-anchor="middle">0</text>
<text class="s" transform="translate(180.25 743.6) scale(0.95 1)" font-size="26.6" text-anchor="middle">10</text>
<text class="s" transform="translate(240 743.6) scale(0.95 1)" font-size="26.6" text-anchor="middle">20</text>
<text class="s" transform="translate(299.75 743.6) scale(0.95 1)" font-size="26.6" text-anchor="middle">30</text>
<text class="s" transform="translate(359.5 743.6) scale(0.95 1)" font-size="26.6" text-anchor="middle">40</text>
<text class="s" transform="translate(419.25 743.6) scale(0.95 1)" font-size="26.6" text-anchor="middle">50</text>
<text class="s" transform="translate(479 743.6) scale(0.95 1)" font-size="26.6" text-anchor="middle">60</text>
<text class="s" transform="translate(538.75 743.6) scale(0.95 1)" font-size="26.6" text-anchor="middle">70</text>
<text class="s" transform="translate(598.5 743.6) scale(0.95 1)" font-size="26.6" text-anchor="middle">80</text>
<text class="s" transform="translate(658.25 743.6) scale(0.95 1)" font-size="26.6" text-anchor="middle">90</text>
<text class="s" transform="translate(718 743.6) scale(0.95 1)" font-size="26.6" text-anchor="middle">100</text>
<text class="s" transform="translate(777.75 743.6) scale(0.95 1)" font-size="26.6" text-anchor="middle">110</text>
<text class="s" transform="translate(837.5 743.6) scale(0.95 1)" font-size="26.6" text-anchor="middle">120</text>
<text class="s" transform="translate(897.25 743.6) scale(0.95 1)" font-size="26.6" text-anchor="middle">130</text>
<text class="s" transform="translate(957 743.6) scale(0.95 1)" font-size="26.6" text-anchor="middle">140</text>
<text class="s" transform="translate(546.1 793) scale(1.02 1)" font-size="37" text-anchor="middle">Time (Min)</text>
<text class="s" transform="translate(35 230.6) rotate(-90)" font-size="38">A<tspan font-size="24.6" dx="0" dy="7.9" letter-spacing="1.4">280</tspan></text>
<text class="s" transform="translate(35 570.6) rotate(-90)" font-size="38">A<tspan font-size="24.6" dx="0" dy="7.9" letter-spacing="1.4">280</tspan></text>
<text class="s" transform="translate(1037.6 217.8) rotate(-90)" font-size="35.5" word-spacing="4.4">% B</text>
<text class="s" transform="translate(1037.6 567.8) rotate(-90)" font-size="35.5" word-spacing="4.4">% B</text>
</svg></body></html>
